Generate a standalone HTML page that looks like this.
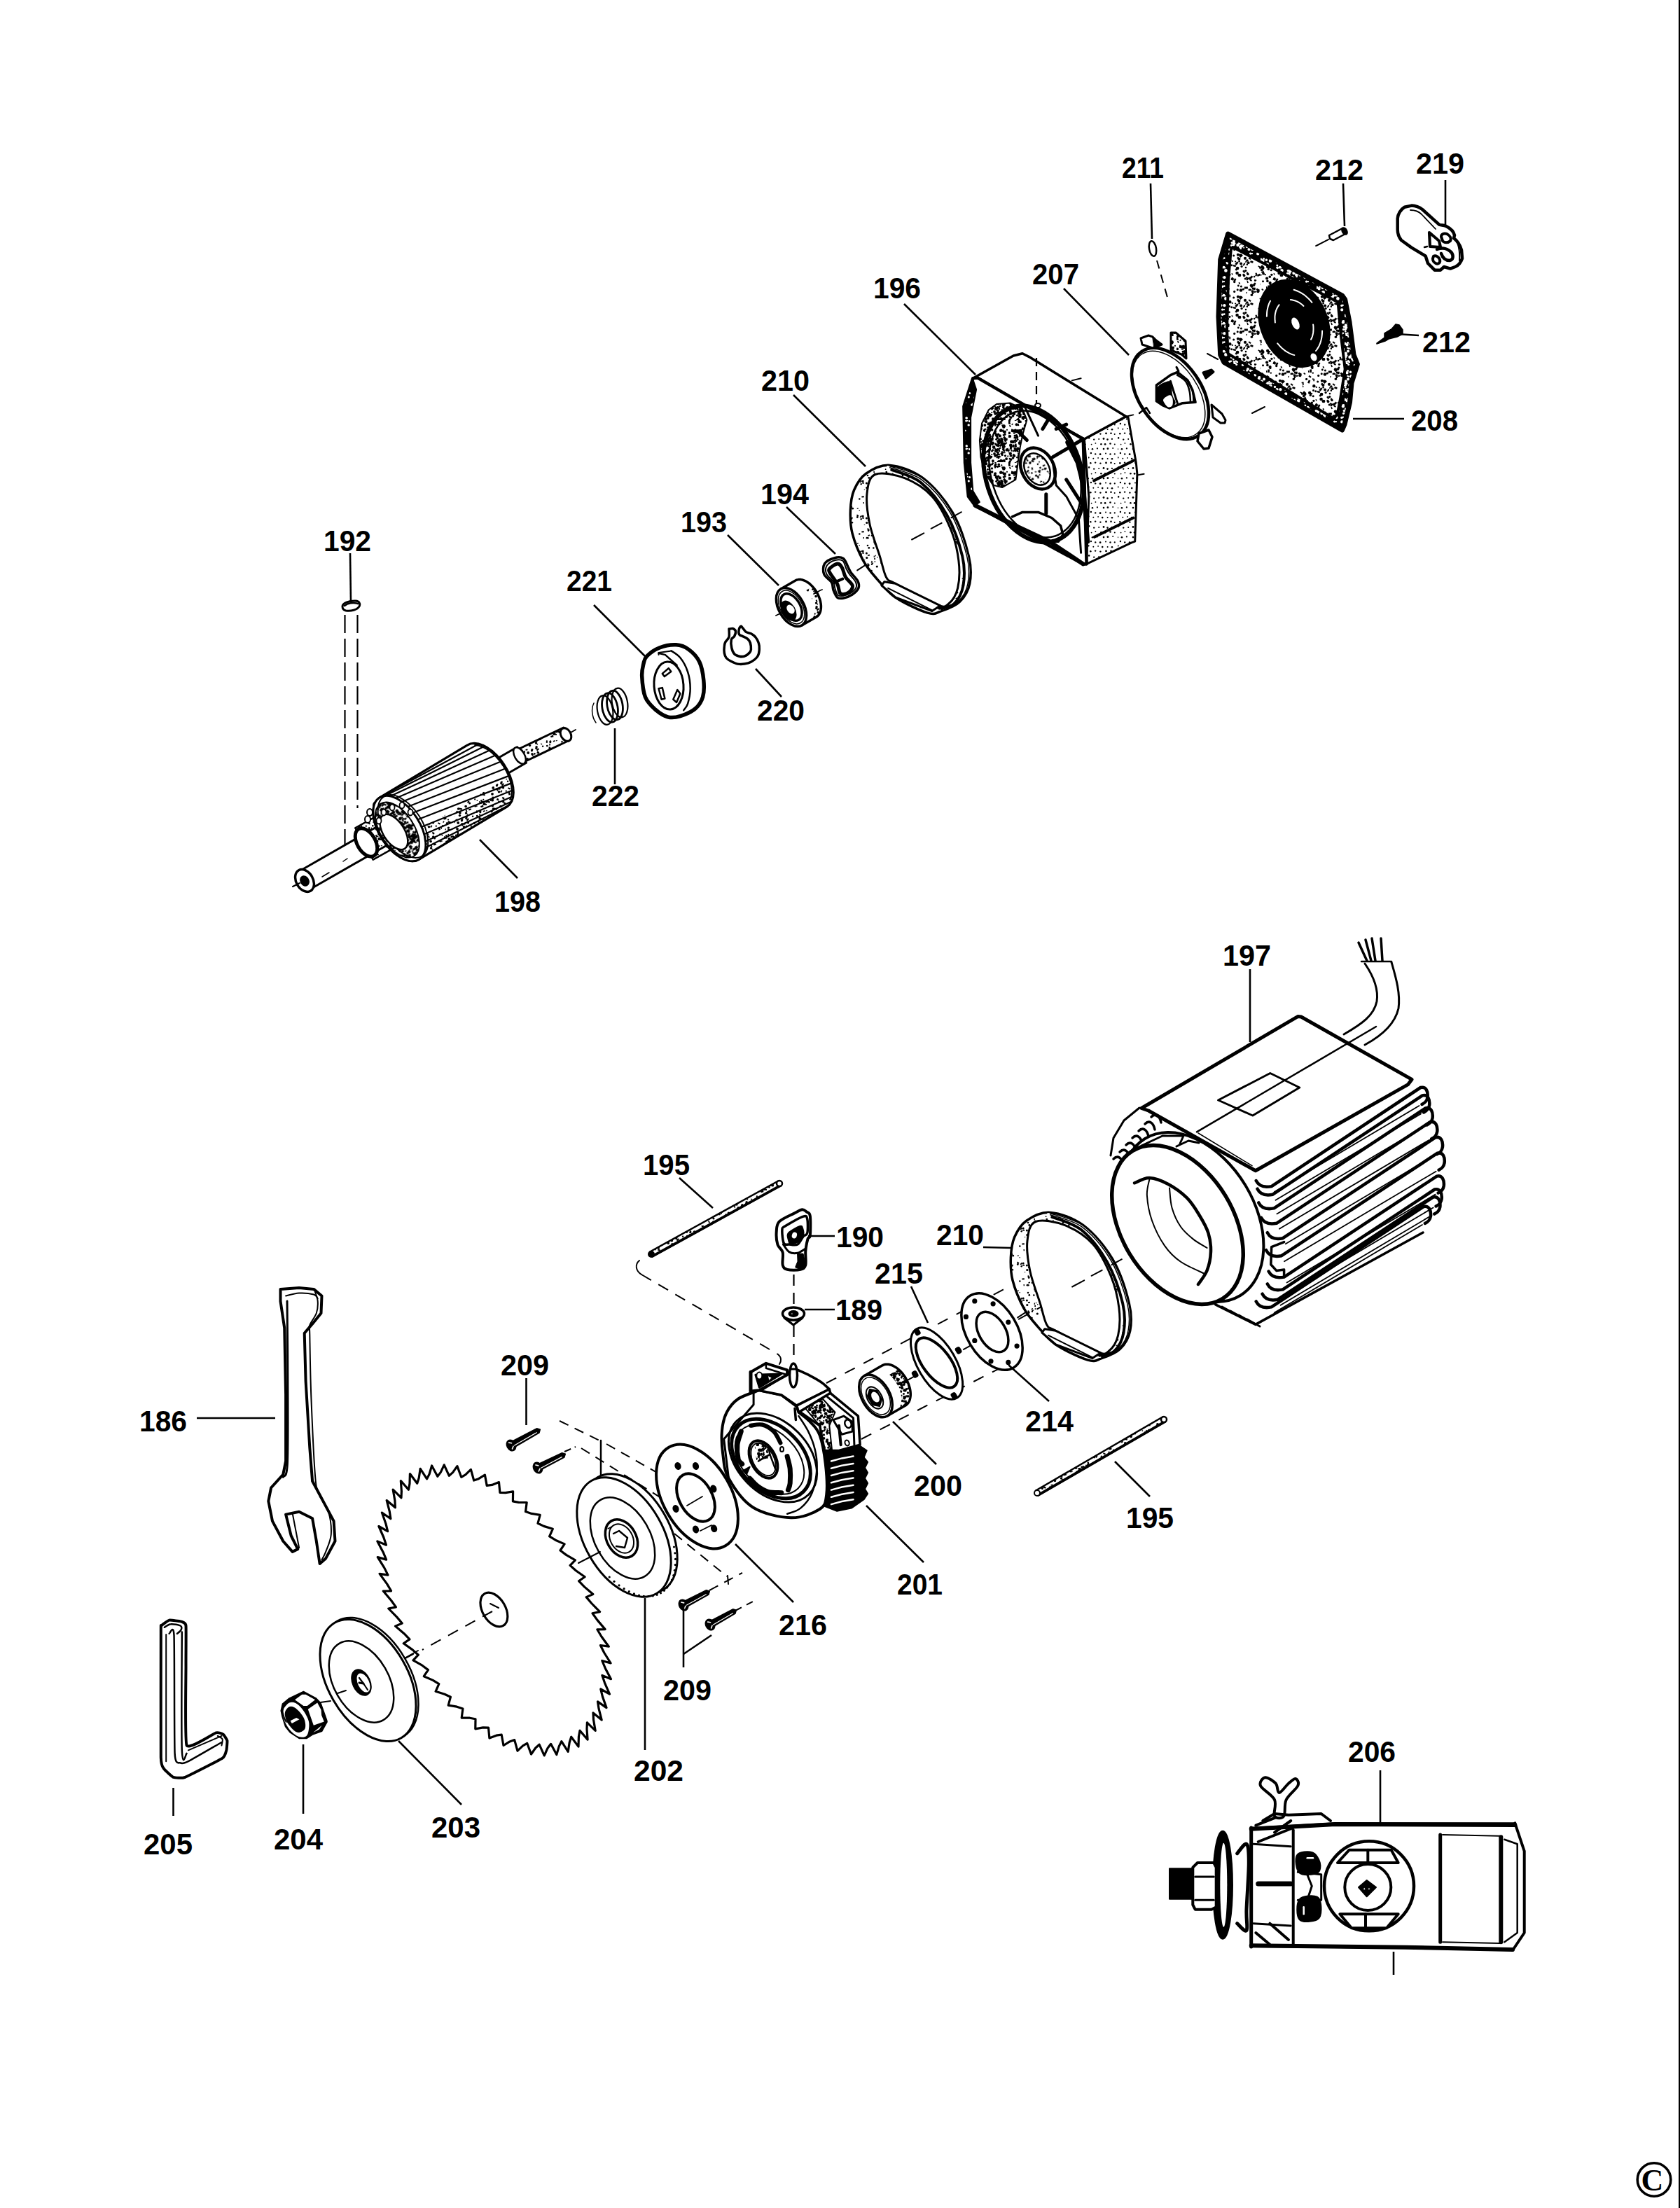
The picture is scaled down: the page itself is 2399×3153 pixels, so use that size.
<!DOCTYPE html><html><head><meta charset="utf-8"><style>html,body{margin:0;padding:0;background:#fff;}svg{display:block}</style></head><body>
<svg xmlns="http://www.w3.org/2000/svg" width="2399" height="3153" viewBox="0 0 2399 3153">
<defs><pattern id="stA" width="60" height="60" patternUnits="userSpaceOnUse"><circle cx="8.1" cy="50.8" r="2.1" fill="#000"/><rect x="29.7" y="27.0" width="4.3" height="2.5" fill="#000" transform="rotate(17 29.7 27.0)"/><rect x="1.7" y="50.1" width="3.7" height="2.2" fill="#000" transform="rotate(0 1.7 50.1)"/><rect x="26.7" y="43.3" width="3.1" height="1.8" fill="#000" transform="rotate(162 26.7 43.3)"/><rect x="1.8" y="1.5" width="4.0" height="2.3" fill="#000" transform="rotate(69 1.8 1.5)"/><circle cx="13.0" cy="25.3" r="1.1" fill="#000"/><circle cx="26.3" cy="29.7" r="1.4" fill="#000"/><circle cx="13.1" cy="27.6" r="1.5" fill="#000"/><circle cx="50.3" cy="33.4" r="1.9" fill="#000"/><circle cx="59.6" cy="51.6" r="1.3" fill="#000"/><circle cx="43.3" cy="42.7" r="2.3" fill="#000"/><rect x="49.8" y="40.2" width="3.3" height="1.9" fill="#000" transform="rotate(159 49.8 40.2)"/><circle cx="50.8" cy="30.3" r="1.9" fill="#000"/><circle cx="14.6" cy="47.8" r="1.6" fill="#000"/><circle cx="32.9" cy="42.2" r="2.0" fill="#000"/><rect x="26.3" y="30.5" width="4.6" height="2.7" fill="#000" transform="rotate(71 26.3 30.5)"/><rect x="29.4" y="1.8" width="2.5" height="1.5" fill="#000" transform="rotate(177 29.4 1.8)"/><rect x="35.6" y="23.6" width="2.9" height="1.7" fill="#000" transform="rotate(177 35.6 23.6)"/><circle cx="46.2" cy="32.4" r="2.2" fill="#000"/><circle cx="30.8" cy="57.1" r="1.9" fill="#000"/><circle cx="16.2" cy="32.9" r="2.3" fill="#000"/><rect x="47.0" y="49.2" width="5.0" height="2.9" fill="#000" transform="rotate(146 47.0 49.2)"/><circle cx="31.1" cy="33.7" r="1.7" fill="#000"/><rect x="52.2" y="34.2" width="3.0" height="1.8" fill="#000" transform="rotate(87 52.2 34.2)"/><rect x="21.4" y="20.8" width="4.0" height="2.3" fill="#000" transform="rotate(110 21.4 20.8)"/><circle cx="27.5" cy="1.7" r="1.4" fill="#000"/><rect x="35.1" y="51.7" width="4.7" height="2.8" fill="#000" transform="rotate(147 35.1 51.7)"/><circle cx="15.3" cy="50.5" r="2.0" fill="#000"/><circle cx="1.0" cy="0.9" r="2.1" fill="#000"/><circle cx="6.6" cy="37.5" r="1.5" fill="#000"/><circle cx="9.6" cy="31.6" r="1.3" fill="#000"/><circle cx="42.7" cy="27.3" r="1.5" fill="#000"/><circle cx="1.4" cy="23.2" r="1.6" fill="#000"/><circle cx="6.5" cy="54.0" r="1.8" fill="#000"/><circle cx="36.3" cy="49.0" r="1.1" fill="#000"/><rect x="8.8" y="43.1" width="2.9" height="1.7" fill="#000" transform="rotate(122 8.8 43.1)"/><rect x="32.7" y="13.2" width="5.2" height="3.1" fill="#000" transform="rotate(93 32.7 13.2)"/><rect x="13.4" y="38.9" width="3.5" height="2.1" fill="#000" transform="rotate(58 13.4 38.9)"/><rect x="37.9" y="3.5" width="3.3" height="1.9" fill="#000" transform="rotate(158 37.9 3.5)"/><rect x="18.4" y="51.5" width="3.3" height="2.0" fill="#000" transform="rotate(134 18.4 51.5)"/><rect x="25.0" y="15.1" width="2.4" height="1.4" fill="#000" transform="rotate(7 25.0 15.1)"/><circle cx="49.2" cy="57.7" r="1.8" fill="#000"/><rect x="52.1" y="58.4" width="4.4" height="2.6" fill="#000" transform="rotate(68 52.1 58.4)"/><circle cx="20.8" cy="12.3" r="2.0" fill="#000"/><circle cx="11.6" cy="6.3" r="2.0" fill="#000"/><rect x="30.0" y="19.5" width="4.9" height="2.9" fill="#000" transform="rotate(3 30.0 19.5)"/><rect x="12.1" y="19.7" width="5.2" height="3.1" fill="#000" transform="rotate(61 12.1 19.7)"/><rect x="12.8" y="40.5" width="4.8" height="2.8" fill="#000" transform="rotate(62 12.8 40.5)"/><rect x="52.9" y="41.2" width="3.8" height="2.2" fill="#000" transform="rotate(42 52.9 41.2)"/><rect x="43.5" y="5.1" width="2.9" height="1.7" fill="#000" transform="rotate(38 43.5 5.1)"/><circle cx="45.5" cy="36.0" r="2.2" fill="#000"/><rect x="20.4" y="17.5" width="4.9" height="2.9" fill="#000" transform="rotate(172 20.4 17.5)"/><circle cx="53.2" cy="8.1" r="1.8" fill="#000"/><rect x="2.3" y="4.4" width="4.9" height="2.9" fill="#000" transform="rotate(149 2.3 4.4)"/><circle cx="20.5" cy="36.9" r="2.1" fill="#000"/><circle cx="34.2" cy="13.4" r="1.2" fill="#000"/><circle cx="53.4" cy="33.9" r="2.3" fill="#000"/><circle cx="16.6" cy="47.2" r="2.2" fill="#000"/><rect x="40.2" y="5.5" width="2.7" height="1.6" fill="#000" transform="rotate(7 40.2 5.5)"/><circle cx="14.4" cy="59.3" r="1.6" fill="#000"/><circle cx="10.0" cy="14.5" r="2.1" fill="#000"/><rect x="54.6" y="22.7" width="5.2" height="3.1" fill="#000" transform="rotate(53 54.6 22.7)"/><rect x="15.2" y="28.6" width="2.7" height="1.6" fill="#000" transform="rotate(7 15.2 28.6)"/><rect x="0.6" y="59.0" width="3.3" height="1.9" fill="#000" transform="rotate(81 0.6 59.0)"/><rect x="18.8" y="3.8" width="5.0" height="3.0" fill="#000" transform="rotate(175 18.8 3.8)"/><rect x="6.7" y="12.9" width="4.2" height="2.5" fill="#000" transform="rotate(98 6.7 12.9)"/><rect x="41.3" y="39.7" width="3.2" height="1.9" fill="#000" transform="rotate(55 41.3 39.7)"/><rect x="14.8" y="4.9" width="3.2" height="1.9" fill="#000" transform="rotate(81 14.8 4.9)"/><circle cx="39.1" cy="38.6" r="2.3" fill="#000"/><rect x="18.4" y="19.6" width="3.3" height="2.0" fill="#000" transform="rotate(161 18.4 19.6)"/><rect x="18.2" y="20.1" width="4.0" height="2.3" fill="#000" transform="rotate(107 18.2 20.1)"/><circle cx="14.7" cy="1.2" r="1.4" fill="#000"/><rect x="33.1" y="4.3" width="2.6" height="1.6" fill="#000" transform="rotate(52 33.1 4.3)"/><circle cx="47.5" cy="29.6" r="2.2" fill="#000"/><rect x="30.1" y="47.7" width="2.6" height="1.6" fill="#000" transform="rotate(31 30.1 47.7)"/><circle cx="46.6" cy="59.1" r="2.2" fill="#000"/><circle cx="6.4" cy="30.9" r="2.3" fill="#000"/><circle cx="53.6" cy="8.5" r="2.3" fill="#000"/><rect x="19.0" y="54.2" width="4.7" height="2.8" fill="#000" transform="rotate(151 19.0 54.2)"/><circle cx="44.8" cy="41.4" r="1.3" fill="#000"/><circle cx="9.5" cy="42.9" r="2.0" fill="#000"/><rect x="3.9" y="57.8" width="4.7" height="2.8" fill="#000" transform="rotate(97 3.9 57.8)"/><circle cx="51.1" cy="27.2" r="1.6" fill="#000"/><circle cx="15.5" cy="1.5" r="1.9" fill="#000"/><circle cx="34.2" cy="3.7" r="1.6" fill="#000"/><circle cx="7.5" cy="15.5" r="2.2" fill="#000"/><circle cx="24.1" cy="36.7" r="1.4" fill="#000"/><circle cx="31.7" cy="30.1" r="1.9" fill="#000"/><circle cx="41.2" cy="43.9" r="1.4" fill="#000"/><rect x="28.7" y="13.5" width="3.6" height="2.1" fill="#000" transform="rotate(163 28.7 13.5)"/><circle cx="55.1" cy="16.5" r="1.9" fill="#000"/><circle cx="4.3" cy="30.7" r="2.2" fill="#000"/><rect x="46.0" y="53.0" width="3.3" height="2.0" fill="#000" transform="rotate(153 46.0 53.0)"/><rect x="22.3" y="42.1" width="4.5" height="2.7" fill="#000" transform="rotate(154 22.3 42.1)"/><circle cx="53.8" cy="57.6" r="1.8" fill="#000"/><rect x="15.0" y="13.1" width="4.0" height="2.4" fill="#000" transform="rotate(9 15.0 13.1)"/><rect x="40.9" y="43.0" width="3.4" height="2.0" fill="#000" transform="rotate(30 40.9 43.0)"/><rect x="43.8" y="2.4" width="5.2" height="3.1" fill="#000" transform="rotate(113 43.8 2.4)"/><circle cx="16.1" cy="54.8" r="2.3" fill="#000"/><rect x="46.5" y="50.5" width="4.3" height="2.5" fill="#000" transform="rotate(80 46.5 50.5)"/><rect x="55.5" y="58.3" width="3.5" height="2.1" fill="#000" transform="rotate(78 55.5 58.3)"/><rect x="9.9" y="19.5" width="2.8" height="1.6" fill="#000" transform="rotate(173 9.9 19.5)"/><circle cx="7.2" cy="36.0" r="1.6" fill="#000"/><circle cx="17.7" cy="14.9" r="2.1" fill="#000"/><rect x="11.4" y="26.3" width="2.5" height="1.5" fill="#000" transform="rotate(109 11.4 26.3)"/><rect x="50.1" y="12.4" width="3.2" height="1.9" fill="#000" transform="rotate(49 50.1 12.4)"/><rect x="35.1" y="15.1" width="4.4" height="2.6" fill="#000" transform="rotate(146 35.1 15.1)"/><rect x="58.4" y="32.7" width="3.8" height="2.3" fill="#000" transform="rotate(138 58.4 32.7)"/><circle cx="34.2" cy="23.0" r="1.5" fill="#000"/><rect x="48.5" y="7.1" width="4.6" height="2.7" fill="#000" transform="rotate(174 48.5 7.1)"/><rect x="45.7" y="58.4" width="2.8" height="1.7" fill="#000" transform="rotate(103 45.7 58.4)"/><rect x="18.7" y="30.2" width="3.4" height="2.0" fill="#000" transform="rotate(0 18.7 30.2)"/><circle cx="26.5" cy="27.0" r="1.5" fill="#000"/><rect x="47.0" y="41.0" width="3.8" height="2.3" fill="#000" transform="rotate(68 47.0 41.0)"/><rect x="12.2" y="0.2" width="3.2" height="1.9" fill="#000" transform="rotate(159 12.2 0.2)"/><circle cx="49.8" cy="30.7" r="2.4" fill="#000"/><rect x="50.1" y="24.5" width="4.5" height="2.7" fill="#000" transform="rotate(55 50.1 24.5)"/><circle cx="10.2" cy="37.2" r="1.8" fill="#000"/><circle cx="0.2" cy="23.3" r="1.7" fill="#000"/><rect x="51.7" y="35.1" width="4.5" height="2.7" fill="#000" transform="rotate(135 51.7 35.1)"/><rect x="29.6" y="44.7" width="4.3" height="2.5" fill="#000" transform="rotate(113 29.6 44.7)"/><rect x="24.4" y="37.8" width="4.2" height="2.5" fill="#000" transform="rotate(141 24.4 37.8)"/><rect x="50.8" y="46.0" width="4.8" height="2.8" fill="#000" transform="rotate(63 50.8 46.0)"/><rect x="15.9" y="42.5" width="4.9" height="2.9" fill="#000" transform="rotate(27 15.9 42.5)"/><circle cx="50.0" cy="29.1" r="1.7" fill="#000"/><circle cx="30.6" cy="44.7" r="1.6" fill="#000"/><rect x="39.4" y="1.2" width="3.9" height="2.3" fill="#000" transform="rotate(124 39.4 1.2)"/><circle cx="24.1" cy="41.3" r="1.9" fill="#000"/><circle cx="12.5" cy="53.2" r="1.4" fill="#000"/><rect x="49.8" y="31.4" width="3.5" height="2.1" fill="#000" transform="rotate(133 49.8 31.4)"/><rect x="10.1" y="39.2" width="4.5" height="2.6" fill="#000" transform="rotate(49 10.1 39.2)"/><circle cx="36.6" cy="13.9" r="1.8" fill="#000"/><circle cx="47.4" cy="52.0" r="1.5" fill="#000"/><circle cx="57.8" cy="42.4" r="2.2" fill="#000"/><circle cx="54.0" cy="37.3" r="1.5" fill="#000"/><rect x="45.7" y="47.1" width="3.0" height="1.8" fill="#000" transform="rotate(30 45.7 47.1)"/><rect x="58.4" y="26.6" width="5.0" height="3.0" fill="#000" transform="rotate(109 58.4 26.6)"/><circle cx="15.7" cy="31.6" r="1.3" fill="#000"/><circle cx="42.9" cy="21.7" r="2.1" fill="#000"/><circle cx="43.1" cy="43.1" r="1.5" fill="#000"/><circle cx="23.8" cy="29.5" r="1.2" fill="#000"/><circle cx="3.3" cy="35.9" r="2.3" fill="#000"/><rect x="2.1" y="42.2" width="4.8" height="2.8" fill="#000" transform="rotate(110 2.1 42.2)"/><rect x="20.5" y="50.3" width="2.8" height="1.6" fill="#000" transform="rotate(17 20.5 50.3)"/><circle cx="24.0" cy="29.7" r="1.6" fill="#000"/><rect x="13.9" y="49.2" width="3.7" height="2.2" fill="#000" transform="rotate(38 13.9 49.2)"/><rect x="42.9" y="19.8" width="4.1" height="2.4" fill="#000" transform="rotate(179 42.9 19.8)"/><circle cx="2.8" cy="47.8" r="2.2" fill="#000"/><circle cx="23.0" cy="34.8" r="2.3" fill="#000"/><rect x="52.8" y="45.5" width="2.9" height="1.7" fill="#000" transform="rotate(3 52.8 45.5)"/><circle cx="8.7" cy="39.9" r="1.2" fill="#000"/><rect x="7.8" y="27.8" width="4.8" height="2.8" fill="#000" transform="rotate(6 7.8 27.8)"/><circle cx="3.7" cy="50.4" r="1.2" fill="#000"/><rect x="7.0" y="5.5" width="2.5" height="1.5" fill="#000" transform="rotate(134 7.0 5.5)"/><circle cx="41.2" cy="50.7" r="2.0" fill="#000"/><circle cx="37.9" cy="58.2" r="1.9" fill="#000"/><circle cx="3.6" cy="56.1" r="1.9" fill="#000"/><circle cx="36.3" cy="33.6" r="1.8" fill="#000"/><rect x="21.2" y="24.8" width="3.0" height="1.8" fill="#000" transform="rotate(76 21.2 24.8)"/><rect x="39.7" y="42.8" width="4.5" height="2.7" fill="#000" transform="rotate(135 39.7 42.8)"/><rect x="15.1" y="58.6" width="2.9" height="1.7" fill="#000" transform="rotate(154 15.1 58.6)"/><rect x="51.1" y="3.2" width="2.7" height="1.6" fill="#000" transform="rotate(84 51.1 3.2)"/><rect x="22.2" y="59.1" width="2.5" height="1.5" fill="#000" transform="rotate(80 22.2 59.1)"/><rect x="7.7" y="23.7" width="4.4" height="2.6" fill="#000" transform="rotate(4 7.7 23.7)"/><circle cx="31.5" cy="5.4" r="2.1" fill="#000"/><circle cx="2.1" cy="23.1" r="2.1" fill="#000"/><rect x="7.8" y="47.7" width="4.7" height="2.8" fill="#000" transform="rotate(55 7.8 47.7)"/><circle cx="25.5" cy="14.7" r="1.8" fill="#000"/><rect x="20.3" y="47.0" width="5.2" height="3.0" fill="#000" transform="rotate(19 20.3 47.0)"/><rect x="39.2" y="26.9" width="5.2" height="3.1" fill="#000" transform="rotate(150 39.2 26.9)"/><rect x="42.1" y="32.1" width="5.0" height="2.9" fill="#000" transform="rotate(52 42.1 32.1)"/><circle cx="9.4" cy="22.2" r="1.8" fill="#000"/><rect x="20.7" y="34.5" width="2.5" height="1.5" fill="#000" transform="rotate(117 20.7 34.5)"/><circle cx="18.8" cy="17.9" r="1.6" fill="#000"/><circle cx="44.9" cy="30.1" r="1.8" fill="#000"/><circle cx="54.9" cy="19.5" r="1.5" fill="#000"/><rect x="58.8" y="28.8" width="5.0" height="3.0" fill="#000" transform="rotate(175 58.8 28.8)"/><rect x="48.9" y="55.5" width="5.1" height="3.0" fill="#000" transform="rotate(24 48.9 55.5)"/><rect x="31.4" y="34.5" width="5.3" height="3.1" fill="#000" transform="rotate(127 31.4 34.5)"/><rect x="44.8" y="21.7" width="5.1" height="3.0" fill="#000" transform="rotate(72 44.8 21.7)"/><circle cx="27.9" cy="58.8" r="1.8" fill="#000"/><rect x="8.9" y="41.2" width="4.0" height="2.4" fill="#000" transform="rotate(33 8.9 41.2)"/><circle cx="24.7" cy="43.7" r="1.2" fill="#000"/><circle cx="32.7" cy="15.9" r="1.2" fill="#000"/><circle cx="37.9" cy="31.6" r="1.2" fill="#000"/><rect x="51.0" y="38.6" width="2.9" height="1.7" fill="#000" transform="rotate(4 51.0 38.6)"/><circle cx="22.1" cy="50.9" r="2.0" fill="#000"/><rect x="53.5" y="35.9" width="4.9" height="2.9" fill="#000" transform="rotate(77 53.5 35.9)"/><rect x="40.5" y="32.7" width="5.1" height="3.0" fill="#000" transform="rotate(131 40.5 32.7)"/><circle cx="48.8" cy="59.9" r="1.4" fill="#000"/><circle cx="44.8" cy="46.2" r="1.8" fill="#000"/><rect x="24.2" y="53.0" width="4.7" height="2.8" fill="#000" transform="rotate(7 24.2 53.0)"/><circle cx="51.1" cy="27.5" r="1.3" fill="#000"/><circle cx="41.5" cy="0.3" r="1.3" fill="#000"/><rect x="53.2" y="44.8" width="5.2" height="3.1" fill="#000" transform="rotate(103 53.2 44.8)"/><rect x="33.1" y="31.5" width="4.0" height="2.3" fill="#000" transform="rotate(172 33.1 31.5)"/><circle cx="24.5" cy="37.8" r="1.5" fill="#000"/><rect x="30.4" y="35.2" width="4.0" height="2.4" fill="#000" transform="rotate(29 30.4 35.2)"/><rect x="38.2" y="59.7" width="4.5" height="2.7" fill="#000" transform="rotate(66 38.2 59.7)"/><rect x="24.1" y="56.2" width="5.0" height="2.9" fill="#000" transform="rotate(162 24.1 56.2)"/><circle cx="55.5" cy="50.8" r="1.6" fill="#000"/><circle cx="47.8" cy="22.4" r="2.1" fill="#000"/><circle cx="20.2" cy="27.4" r="1.3" fill="#000"/><circle cx="24.9" cy="1.1" r="1.3" fill="#000"/><rect x="51.5" y="35.4" width="3.2" height="1.9" fill="#000" transform="rotate(46 51.5 35.4)"/><circle cx="30.8" cy="44.4" r="2.0" fill="#000"/><circle cx="46.6" cy="29.1" r="2.0" fill="#000"/><circle cx="58.3" cy="43.0" r="1.2" fill="#000"/><circle cx="58.0" cy="13.8" r="1.1" fill="#000"/><rect x="28.8" y="57.1" width="3.6" height="2.1" fill="#000" transform="rotate(150 28.8 57.1)"/><rect x="5.3" y="36.7" width="5.3" height="3.1" fill="#000" transform="rotate(96 5.3 36.7)"/><circle cx="20.8" cy="56.8" r="2.4" fill="#000"/><circle cx="33.2" cy="25.2" r="2.0" fill="#000"/><rect x="15.9" y="16.7" width="3.8" height="2.2" fill="#000" transform="rotate(154 15.9 16.7)"/><circle cx="47.2" cy="40.6" r="1.2" fill="#000"/><rect x="40.1" y="17.7" width="3.9" height="2.3" fill="#000" transform="rotate(21 40.1 17.7)"/><rect x="51.2" y="6.3" width="3.5" height="2.1" fill="#000" transform="rotate(36 51.2 6.3)"/><rect x="31.2" y="25.0" width="5.0" height="2.9" fill="#000" transform="rotate(52 31.2 25.0)"/><circle cx="29.5" cy="53.7" r="1.8" fill="#000"/><circle cx="45.6" cy="20.2" r="1.7" fill="#000"/><rect x="59.3" y="39.4" width="5.1" height="3.0" fill="#000" transform="rotate(48 59.3 39.4)"/><rect x="32.4" y="26.4" width="4.6" height="2.7" fill="#000" transform="rotate(41 32.4 26.4)"/><circle cx="16.5" cy="42.4" r="1.6" fill="#000"/><rect x="11.7" y="33.7" width="4.1" height="2.4" fill="#000" transform="rotate(96 11.7 33.7)"/><circle cx="36.5" cy="8.9" r="1.6" fill="#000"/><circle cx="41.7" cy="16.0" r="1.4" fill="#000"/><circle cx="28.2" cy="20.3" r="1.9" fill="#000"/><circle cx="52.8" cy="41.7" r="1.8" fill="#000"/><rect x="19.6" y="41.4" width="4.3" height="2.5" fill="#000" transform="rotate(160 19.6 41.4)"/><circle cx="18.9" cy="29.6" r="1.5" fill="#000"/><rect x="8.4" y="15.4" width="2.7" height="1.6" fill="#000" transform="rotate(127 8.4 15.4)"/><circle cx="33.8" cy="41.1" r="1.4" fill="#000"/><circle cx="34.1" cy="53.1" r="1.6" fill="#000"/><circle cx="1.2" cy="18.3" r="1.9" fill="#000"/><circle cx="13.5" cy="40.8" r="2.4" fill="#000"/><circle cx="36.1" cy="31.1" r="1.1" fill="#000"/><rect x="8.4" y="15.0" width="4.6" height="2.7" fill="#000" transform="rotate(7 8.4 15.0)"/><circle cx="4.6" cy="43.5" r="1.2" fill="#000"/><circle cx="16.2" cy="3.0" r="1.1" fill="#000"/><circle cx="24.0" cy="56.0" r="1.9" fill="#000"/><circle cx="40.8" cy="16.4" r="1.8" fill="#000"/><rect x="56.9" y="21.1" width="4.7" height="2.8" fill="#000" transform="rotate(152 56.9 21.1)"/><rect x="36.4" y="52.2" width="3.6" height="2.1" fill="#000" transform="rotate(112 36.4 52.2)"/><circle cx="31.7" cy="33.9" r="1.8" fill="#000"/><circle cx="53.9" cy="38.0" r="1.8" fill="#000"/><circle cx="30.5" cy="10.5" r="1.4" fill="#000"/><rect x="32.8" y="15.0" width="3.2" height="1.9" fill="#000" transform="rotate(85 32.8 15.0)"/><rect x="24.2" y="6.2" width="3.5" height="2.1" fill="#000" transform="rotate(98 24.2 6.2)"/><rect x="32.7" y="50.6" width="4.5" height="2.7" fill="#000" transform="rotate(5 32.7 50.6)"/><rect x="18.5" y="40.9" width="2.9" height="1.7" fill="#000" transform="rotate(26 18.5 40.9)"/><rect x="52.7" y="13.0" width="4.8" height="2.9" fill="#000" transform="rotate(60 52.7 13.0)"/><circle cx="53.3" cy="9.6" r="2.2" fill="#000"/><circle cx="26.4" cy="7.1" r="1.9" fill="#000"/><circle cx="40.0" cy="48.0" r="1.9" fill="#000"/><circle cx="57.1" cy="55.2" r="1.9" fill="#000"/><rect x="33.7" y="53.0" width="3.7" height="2.2" fill="#000" transform="rotate(108 33.7 53.0)"/><rect x="25.3" y="56.0" width="3.6" height="2.1" fill="#000" transform="rotate(10 25.3 56.0)"/><circle cx="28.2" cy="2.2" r="2.0" fill="#000"/><rect x="2.5" y="6.7" width="2.8" height="1.7" fill="#000" transform="rotate(64 2.5 6.7)"/><rect x="16.3" y="59.0" width="5.0" height="3.0" fill="#000" transform="rotate(144 16.3 59.0)"/><circle cx="49.2" cy="14.7" r="2.2" fill="#000"/><rect x="33.7" y="21.5" width="2.9" height="1.7" fill="#000" transform="rotate(165 33.7 21.5)"/><rect x="18.8" y="52.8" width="3.4" height="2.0" fill="#000" transform="rotate(179 18.8 52.8)"/><circle cx="46.3" cy="3.3" r="1.7" fill="#000"/><rect x="17.6" y="49.0" width="3.7" height="2.2" fill="#000" transform="rotate(114 17.6 49.0)"/><rect x="31.1" y="3.4" width="4.3" height="2.6" fill="#000" transform="rotate(31 31.1 3.4)"/><rect x="38.6" y="29.2" width="3.4" height="2.0" fill="#000" transform="rotate(176 38.6 29.2)"/><rect x="1.3" y="53.8" width="3.5" height="2.1" fill="#000" transform="rotate(31 1.3 53.8)"/><rect x="43.0" y="6.0" width="3.4" height="2.0" fill="#000" transform="rotate(118 43.0 6.0)"/><circle cx="47.1" cy="27.7" r="1.7" fill="#000"/></pattern><pattern id="stB" width="42" height="42" patternUnits="userSpaceOnUse"><circle cx="4.6" cy="4.6" r="0.9" fill="#000"/><circle cx="6.0" cy="11.3" r="1.3" fill="#000"/><circle cx="3.9" cy="17.0" r="1.2" fill="#000"/><circle cx="7.3" cy="24.7" r="1.0" fill="#000"/><circle cx="3.3" cy="31.2" r="1.3" fill="#000"/><circle cx="8.2" cy="39.6" r="1.2" fill="#000"/><circle cx="10.4" cy="2.9" r="0.9" fill="#000"/><circle cx="12.9" cy="10.4" r="1.1" fill="#000"/><circle cx="10.2" cy="18.4" r="1.2" fill="#000"/><circle cx="14.1" cy="23.9" r="0.9" fill="#000"/><circle cx="10.1" cy="30.6" r="1.2" fill="#000"/><circle cx="15.2" cy="38.9" r="1.0" fill="#000"/><circle cx="18.4" cy="4.2" r="1.3" fill="#000"/><circle cx="22.0" cy="11.1" r="1.3" fill="#000"/><circle cx="17.1" cy="18.7" r="1.4" fill="#000"/><circle cx="20.2" cy="25.1" r="1.3" fill="#000"/><circle cx="17.4" cy="31.6" r="1.2" fill="#000"/><circle cx="22.0" cy="38.5" r="1.4" fill="#000"/><circle cx="24.1" cy="4.4" r="1.4" fill="#000"/><circle cx="27.9" cy="10.7" r="1.4" fill="#000"/><circle cx="25.0" cy="17.5" r="1.0" fill="#000"/><circle cx="27.6" cy="25.0" r="1.0" fill="#000"/><circle cx="25.5" cy="30.9" r="1.4" fill="#000"/><circle cx="27.5" cy="39.6" r="1.3" fill="#000"/><circle cx="31.5" cy="3.5" r="1.3" fill="#000"/><circle cx="35.2" cy="10.0" r="1.0" fill="#000"/><circle cx="31.5" cy="18.5" r="1.2" fill="#000"/><circle cx="34.0" cy="25.3" r="1.3" fill="#000"/><circle cx="32.5" cy="30.8" r="1.3" fill="#000"/><circle cx="33.9" cy="38.9" r="1.1" fill="#000"/><circle cx="37.8" cy="4.4" r="1.0" fill="#000"/><circle cx="0.1" cy="11.3" r="1.0" fill="#000"/><circle cx="37.8" cy="18.4" r="1.1" fill="#000"/><circle cx="0.5" cy="23.4" r="1.1" fill="#000"/><circle cx="37.7" cy="31.9" r="1.0" fill="#000"/><circle cx="1.1" cy="37.4" r="1.3" fill="#000"/></pattern><pattern id="stC" width="50" height="50" patternUnits="userSpaceOnUse"><rect x="11.9" y="27.2" width="2.8" height="1.7" fill="#000" transform="rotate(113 11.9 27.2)"/><circle cx="3.3" cy="0.7" r="1.7" fill="#000"/><rect x="11.7" y="49.8" width="3.0" height="1.8" fill="#000" transform="rotate(86 11.7 49.8)"/><rect x="32.0" y="7.5" width="3.4" height="2.0" fill="#000" transform="rotate(94 32.0 7.5)"/><rect x="37.1" y="33.6" width="2.1" height="1.3" fill="#000" transform="rotate(106 37.1 33.6)"/><circle cx="15.1" cy="1.6" r="1.8" fill="#000"/><rect x="35.9" y="43.9" width="3.6" height="2.1" fill="#000" transform="rotate(71 35.9 43.9)"/><rect x="40.0" y="22.2" width="4.0" height="2.4" fill="#000" transform="rotate(18 40.0 22.2)"/><circle cx="6.8" cy="10.8" r="1.9" fill="#000"/><circle cx="31.3" cy="15.1" r="1.4" fill="#000"/><rect x="17.5" y="29.3" width="3.3" height="1.9" fill="#000" transform="rotate(123 17.5 29.3)"/><rect x="46.4" y="42.8" width="4.2" height="2.5" fill="#000" transform="rotate(29 46.4 42.8)"/><rect x="43.0" y="48.2" width="4.0" height="2.3" fill="#000" transform="rotate(128 43.0 48.2)"/><circle cx="10.6" cy="41.6" r="1.5" fill="#000"/><circle cx="3.2" cy="42.7" r="1.9" fill="#000"/><circle cx="40.0" cy="20.5" r="1.1" fill="#000"/><rect x="38.4" y="43.6" width="2.1" height="1.2" fill="#000" transform="rotate(8 38.4 43.6)"/><rect x="35.9" y="16.5" width="3.9" height="2.3" fill="#000" transform="rotate(91 35.9 16.5)"/><rect x="49.9" y="15.5" width="2.1" height="1.3" fill="#000" transform="rotate(6 49.9 15.5)"/><circle cx="9.9" cy="20.4" r="1.5" fill="#000"/><rect x="2.1" y="43.4" width="2.7" height="1.6" fill="#000" transform="rotate(161 2.1 43.4)"/><rect x="18.9" y="23.0" width="3.1" height="1.8" fill="#000" transform="rotate(107 18.9 23.0)"/><rect x="28.0" y="31.0" width="4.0" height="2.4" fill="#000" transform="rotate(78 28.0 31.0)"/><rect x="36.0" y="11.9" width="2.6" height="1.6" fill="#000" transform="rotate(94 36.0 11.9)"/><rect x="27.4" y="0.6" width="2.9" height="1.7" fill="#000" transform="rotate(4 27.4 0.6)"/><rect x="30.8" y="31.6" width="2.1" height="1.2" fill="#000" transform="rotate(84 30.8 31.6)"/><rect x="34.0" y="17.6" width="3.5" height="2.1" fill="#000" transform="rotate(4 34.0 17.6)"/><circle cx="3.0" cy="33.8" r="1.9" fill="#000"/><circle cx="22.8" cy="29.6" r="1.2" fill="#000"/><circle cx="15.6" cy="18.5" r="1.5" fill="#000"/><rect x="18.9" y="38.6" width="2.0" height="1.2" fill="#000" transform="rotate(132 18.9 38.6)"/><circle cx="15.5" cy="11.1" r="1.7" fill="#000"/><circle cx="9.4" cy="21.8" r="1.6" fill="#000"/><circle cx="16.1" cy="16.7" r="1.7" fill="#000"/><rect x="42.8" y="8.5" width="2.7" height="1.6" fill="#000" transform="rotate(159 42.8 8.5)"/><rect x="22.6" y="11.3" width="2.2" height="1.3" fill="#000" transform="rotate(34 22.6 11.3)"/><circle cx="40.3" cy="41.9" r="1.1" fill="#000"/><circle cx="40.4" cy="32.1" r="1.7" fill="#000"/><circle cx="6.5" cy="14.6" r="1.7" fill="#000"/><circle cx="17.3" cy="20.8" r="1.3" fill="#000"/><rect x="46.0" y="7.8" width="2.0" height="1.2" fill="#000" transform="rotate(158 46.0 7.8)"/><rect x="49.3" y="21.7" width="4.1" height="2.4" fill="#000" transform="rotate(40 49.3 21.7)"/><rect x="37.3" y="41.8" width="3.4" height="2.0" fill="#000" transform="rotate(52 37.3 41.8)"/><rect x="17.1" y="11.4" width="2.1" height="1.3" fill="#000" transform="rotate(52 17.1 11.4)"/><rect x="40.5" y="2.3" width="4.0" height="2.3" fill="#000" transform="rotate(166 40.5 2.3)"/><circle cx="44.8" cy="45.0" r="1.5" fill="#000"/><rect x="37.3" y="8.6" width="2.6" height="1.6" fill="#000" transform="rotate(94 37.3 8.6)"/><circle cx="20.7" cy="47.0" r="1.5" fill="#000"/><rect x="12.6" y="43.1" width="3.0" height="1.8" fill="#000" transform="rotate(63 12.6 43.1)"/><circle cx="9.9" cy="26.7" r="1.7" fill="#000"/><rect x="39.6" y="46.1" width="3.8" height="2.2" fill="#000" transform="rotate(1 39.6 46.1)"/><circle cx="31.4" cy="43.1" r="0.9" fill="#000"/><circle cx="13.4" cy="26.4" r="1.3" fill="#000"/><circle cx="38.8" cy="0.1" r="1.0" fill="#000"/><rect x="6.2" y="3.4" width="4.1" height="2.4" fill="#000" transform="rotate(16 6.2 3.4)"/><circle cx="25.1" cy="15.8" r="1.2" fill="#000"/><circle cx="32.3" cy="29.3" r="1.3" fill="#000"/><rect x="16.4" y="6.2" width="3.2" height="1.9" fill="#000" transform="rotate(68 16.4 6.2)"/><rect x="4.0" y="8.9" width="2.8" height="1.7" fill="#000" transform="rotate(141 4.0 8.9)"/><circle cx="19.0" cy="40.1" r="1.5" fill="#000"/><circle cx="18.6" cy="24.8" r="1.6" fill="#000"/><rect x="34.7" y="23.0" width="2.5" height="1.5" fill="#000" transform="rotate(125 34.7 23.0)"/><rect x="3.6" y="21.2" width="2.9" height="1.7" fill="#000" transform="rotate(169 3.6 21.2)"/><circle cx="18.7" cy="44.9" r="1.7" fill="#000"/><rect x="23.2" y="6.2" width="3.8" height="2.2" fill="#000" transform="rotate(160 23.2 6.2)"/><rect x="39.6" y="33.4" width="3.6" height="2.1" fill="#000" transform="rotate(19 39.6 33.4)"/><rect x="29.4" y="0.2" width="2.3" height="1.4" fill="#000" transform="rotate(8 29.4 0.2)"/><circle cx="4.6" cy="5.0" r="1.8" fill="#000"/><rect x="1.2" y="42.1" width="2.2" height="1.3" fill="#000" transform="rotate(121 1.2 42.1)"/><rect x="41.8" y="47.6" width="3.3" height="1.9" fill="#000" transform="rotate(7 41.8 47.6)"/><circle cx="38.4" cy="25.6" r="1.6" fill="#000"/><circle cx="37.4" cy="46.7" r="1.0" fill="#000"/><circle cx="28.2" cy="41.4" r="1.1" fill="#000"/><circle cx="12.5" cy="30.8" r="1.7" fill="#000"/><circle cx="18.4" cy="19.8" r="1.3" fill="#000"/><circle cx="4.2" cy="25.0" r="1.9" fill="#000"/><rect x="37.4" y="8.0" width="3.5" height="2.1" fill="#000" transform="rotate(121 37.4 8.0)"/><rect x="25.9" y="24.2" width="3.4" height="2.0" fill="#000" transform="rotate(27 25.9 24.2)"/><rect x="4.8" y="37.4" width="4.0" height="2.4" fill="#000" transform="rotate(80 4.8 37.4)"/><circle cx="35.9" cy="9.3" r="1.2" fill="#000"/></pattern><pattern id="stE" width="50" height="50" patternUnits="userSpaceOnUse"><rect x="31.1" y="37.1" width="3.2" height="1.9" fill="#000" transform="rotate(133 31.1 37.1)"/><rect x="46.1" y="1.5" width="2.6" height="1.5" fill="#000" transform="rotate(117 46.1 1.5)"/><circle cx="45.0" cy="5.7" r="1.2" fill="#000"/><circle cx="27.2" cy="28.7" r="0.8" fill="#000"/><circle cx="14.0" cy="45.8" r="1.4" fill="#000"/><circle cx="39.9" cy="6.9" r="1.3" fill="#000"/><circle cx="0.1" cy="43.6" r="1.0" fill="#000"/><rect x="49.1" y="43.6" width="2.3" height="1.3" fill="#000" transform="rotate(97 49.1 43.6)"/><rect x="33.9" y="10.2" width="3.4" height="2.0" fill="#000" transform="rotate(174 33.9 10.2)"/><circle cx="44.7" cy="14.9" r="1.1" fill="#000"/><rect x="7.3" y="3.3" width="2.3" height="1.4" fill="#000" transform="rotate(1 7.3 3.3)"/><rect x="33.9" y="16.9" width="2.3" height="1.4" fill="#000" transform="rotate(87 33.9 16.9)"/><circle cx="15.8" cy="24.1" r="1.4" fill="#000"/><rect x="48.8" y="1.1" width="3.1" height="1.8" fill="#000" transform="rotate(3 48.8 1.1)"/><circle cx="39.4" cy="18.3" r="1.3" fill="#000"/><circle cx="2.3" cy="9.0" r="1.6" fill="#000"/><circle cx="37.8" cy="46.5" r="1.6" fill="#000"/><circle cx="17.7" cy="26.2" r="1.4" fill="#000"/><circle cx="37.4" cy="39.9" r="1.5" fill="#000"/><rect x="47.3" y="4.6" width="2.4" height="1.4" fill="#000" transform="rotate(165 47.3 4.6)"/><circle cx="17.0" cy="46.2" r="1.2" fill="#000"/><circle cx="15.8" cy="8.9" r="0.9" fill="#000"/><circle cx="34.5" cy="49.8" r="0.9" fill="#000"/><circle cx="49.3" cy="26.7" r="1.1" fill="#000"/><circle cx="29.7" cy="41.3" r="1.2" fill="#000"/><circle cx="2.8" cy="45.8" r="0.8" fill="#000"/><rect x="41.9" y="6.5" width="3.0" height="1.8" fill="#000" transform="rotate(113 41.9 6.5)"/><circle cx="39.4" cy="5.3" r="1.1" fill="#000"/><rect x="42.2" y="14.7" width="2.6" height="1.5" fill="#000" transform="rotate(153 42.2 14.7)"/><rect x="48.8" y="22.7" width="2.6" height="1.5" fill="#000" transform="rotate(86 48.8 22.7)"/><circle cx="14.6" cy="20.2" r="0.9" fill="#000"/><circle cx="49.4" cy="48.0" r="1.3" fill="#000"/><rect x="16.9" y="4.5" width="2.2" height="1.3" fill="#000" transform="rotate(156 16.9 4.5)"/><rect x="18.1" y="39.3" width="3.1" height="1.8" fill="#000" transform="rotate(120 18.1 39.3)"/><circle cx="38.0" cy="18.2" r="1.4" fill="#000"/><circle cx="24.3" cy="38.5" r="1.4" fill="#000"/><circle cx="47.3" cy="32.5" r="1.3" fill="#000"/><circle cx="27.3" cy="12.5" r="1.3" fill="#000"/><circle cx="40.8" cy="32.4" r="1.4" fill="#000"/><circle cx="32.2" cy="36.9" r="1.5" fill="#000"/><rect x="42.1" y="43.5" width="3.0" height="1.8" fill="#000" transform="rotate(172 42.1 43.5)"/><rect x="25.9" y="26.5" width="2.1" height="1.2" fill="#000" transform="rotate(169 25.9 26.5)"/><rect x="23.9" y="34.6" width="3.0" height="1.8" fill="#000" transform="rotate(31 23.9 34.6)"/><circle cx="39.0" cy="29.0" r="1.3" fill="#000"/><rect x="31.2" y="38.7" width="2.9" height="1.7" fill="#000" transform="rotate(5 31.2 38.7)"/></pattern><pattern id="stW" width="40" height="40" patternUnits="userSpaceOnUse"><rect width="40" height="40" fill="#000"/><circle cx="18.5" cy="14.9" r="1.2" fill="#fff"/><circle cx="34.7" cy="0.3" r="1.6" fill="#fff"/><circle cx="35.9" cy="3.2" r="1.7" fill="#fff"/><circle cx="24.7" cy="1.6" r="1.5" fill="#fff"/><circle cx="28.1" cy="18.1" r="1.9" fill="#fff"/><circle cx="6.3" cy="9.5" r="1.1" fill="#fff"/><circle cx="20.3" cy="37.0" r="1.7" fill="#fff"/><circle cx="31.0" cy="15.3" r="1.9" fill="#fff"/><circle cx="4.1" cy="11.6" r="1.8" fill="#fff"/><circle cx="29.0" cy="16.9" r="1.1" fill="#fff"/><circle cx="10.7" cy="8.4" r="1.3" fill="#fff"/><circle cx="32.4" cy="8.0" r="2.1" fill="#fff"/><circle cx="35.2" cy="2.2" r="1.5" fill="#fff"/><circle cx="19.7" cy="0.9" r="1.5" fill="#fff"/><circle cx="36.3" cy="4.5" r="1.7" fill="#fff"/><circle cx="4.8" cy="23.1" r="2.1" fill="#fff"/><circle cx="8.1" cy="0.3" r="1.1" fill="#fff"/><circle cx="21.6" cy="0.7" r="1.1" fill="#fff"/><circle cx="19.9" cy="36.8" r="1.5" fill="#fff"/><circle cx="15.9" cy="25.5" r="1.1" fill="#fff"/><circle cx="23.2" cy="6.9" r="1.7" fill="#fff"/><circle cx="38.3" cy="2.2" r="1.7" fill="#fff"/></pattern><pattern id="stW2" width="40" height="40" patternUnits="userSpaceOnUse"><rect width="40" height="40" fill="#000"/><circle cx="19.0" cy="26.3" r="1.9" fill="#fff"/><circle cx="5.7" cy="0.4" r="1.5" fill="#fff"/><circle cx="11.0" cy="32.4" r="2.0" fill="#fff"/><circle cx="24.1" cy="22.3" r="1.9" fill="#fff"/><circle cx="5.8" cy="17.6" r="1.2" fill="#fff"/><circle cx="36.2" cy="2.4" r="2.1" fill="#fff"/><circle cx="3.0" cy="27.5" r="1.5" fill="#fff"/><circle cx="16.2" cy="33.7" r="1.0" fill="#fff"/><circle cx="2.4" cy="36.6" r="1.7" fill="#fff"/><circle cx="3.6" cy="39.5" r="2.3" fill="#fff"/><circle cx="4.5" cy="16.9" r="1.2" fill="#fff"/><circle cx="12.5" cy="24.9" r="1.2" fill="#fff"/><circle cx="27.9" cy="2.1" r="1.2" fill="#fff"/><circle cx="32.6" cy="16.0" r="1.6" fill="#fff"/><circle cx="23.8" cy="19.1" r="1.5" fill="#fff"/><circle cx="1.2" cy="29.1" r="2.4" fill="#fff"/><circle cx="39.1" cy="26.5" r="1.5" fill="#fff"/><circle cx="14.5" cy="27.6" r="1.9" fill="#fff"/><circle cx="4.6" cy="9.4" r="1.5" fill="#fff"/><circle cx="20.5" cy="32.4" r="1.7" fill="#fff"/><circle cx="1.1" cy="32.9" r="1.6" fill="#fff"/><circle cx="20.8" cy="8.9" r="1.6" fill="#fff"/><circle cx="15.5" cy="30.9" r="1.1" fill="#fff"/><circle cx="22.0" cy="7.1" r="2.0" fill="#fff"/><circle cx="1.5" cy="11.1" r="1.5" fill="#fff"/><circle cx="25.5" cy="2.1" r="1.6" fill="#fff"/><circle cx="8.4" cy="11.3" r="1.7" fill="#fff"/><circle cx="38.3" cy="19.2" r="2.3" fill="#fff"/><circle cx="6.7" cy="37.0" r="1.5" fill="#fff"/><circle cx="7.6" cy="29.9" r="2.3" fill="#fff"/><circle cx="0.3" cy="10.7" r="2.1" fill="#fff"/><circle cx="13.7" cy="9.7" r="1.0" fill="#fff"/><circle cx="1.6" cy="24.8" r="2.4" fill="#fff"/><circle cx="39.9" cy="20.1" r="1.0" fill="#fff"/><circle cx="12.9" cy="31.5" r="2.2" fill="#fff"/><circle cx="25.6" cy="9.2" r="1.7" fill="#fff"/><circle cx="19.1" cy="25.1" r="1.4" fill="#fff"/><circle cx="37.9" cy="35.8" r="1.2" fill="#fff"/><circle cx="11.7" cy="34.9" r="1.4" fill="#fff"/><circle cx="37.8" cy="20.6" r="2.0" fill="#fff"/><circle cx="28.2" cy="8.6" r="1.4" fill="#fff"/><circle cx="10.2" cy="27.3" r="2.0" fill="#fff"/><circle cx="5.3" cy="35.5" r="1.6" fill="#fff"/><circle cx="9.6" cy="17.4" r="2.4" fill="#fff"/><circle cx="22.4" cy="25.0" r="2.3" fill="#fff"/><circle cx="38.5" cy="30.4" r="1.6" fill="#fff"/><circle cx="23.5" cy="36.0" r="2.1" fill="#fff"/><circle cx="23.2" cy="13.9" r="1.5" fill="#fff"/><circle cx="29.4" cy="22.5" r="1.0" fill="#fff"/><circle cx="28.4" cy="36.2" r="2.1" fill="#fff"/><circle cx="35.9" cy="36.4" r="1.7" fill="#fff"/><circle cx="31.6" cy="15.2" r="1.1" fill="#fff"/><circle cx="14.1" cy="12.5" r="2.3" fill="#fff"/><circle cx="27.6" cy="21.7" r="1.9" fill="#fff"/><circle cx="5.0" cy="21.4" r="2.0" fill="#fff"/><circle cx="15.8" cy="9.8" r="1.6" fill="#fff"/><circle cx="12.9" cy="27.4" r="1.2" fill="#fff"/><circle cx="3.6" cy="12.5" r="2.0" fill="#fff"/><circle cx="30.4" cy="26.4" r="2.3" fill="#fff"/><circle cx="14.6" cy="1.2" r="1.7" fill="#fff"/></pattern><pattern id="stL" width="60" height="60" patternUnits="userSpaceOnUse"><circle cx="9.9" cy="41.4" r="1.8" fill="#000"/><rect x="13.0" y="47.6" width="4.5" height="2.7" fill="#000" transform="rotate(91 13.0 47.6)"/><rect x="14.2" y="0.2" width="3.3" height="1.9" fill="#000" transform="rotate(12 14.2 0.2)"/><circle cx="47.6" cy="13.9" r="1.3" fill="#000"/><rect x="59.9" y="44.3" width="4.7" height="2.8" fill="#000" transform="rotate(6 59.9 44.3)"/><rect x="19.7" y="29.9" width="2.5" height="1.5" fill="#000" transform="rotate(66 19.7 29.9)"/><rect x="9.3" y="49.1" width="2.6" height="1.5" fill="#000" transform="rotate(82 9.3 49.1)"/><circle cx="33.1" cy="20.6" r="1.6" fill="#000"/><rect x="2.2" y="52.0" width="2.9" height="1.7" fill="#000" transform="rotate(38 2.2 52.0)"/><rect x="58.1" y="53.6" width="4.4" height="2.6" fill="#000" transform="rotate(105 58.1 53.6)"/><rect x="43.8" y="7.3" width="3.6" height="2.1" fill="#000" transform="rotate(36 43.8 7.3)"/><circle cx="55.4" cy="53.3" r="1.5" fill="#000"/><circle cx="27.1" cy="23.1" r="2.3" fill="#000"/><rect x="1.6" y="5.6" width="4.3" height="2.5" fill="#000" transform="rotate(89 1.6 5.6)"/><circle cx="29.5" cy="33.0" r="2.0" fill="#000"/><circle cx="36.5" cy="33.4" r="1.8" fill="#000"/><circle cx="10.2" cy="20.9" r="2.2" fill="#000"/><circle cx="35.8" cy="18.4" r="1.1" fill="#000"/><rect x="48.8" y="46.6" width="3.3" height="1.9" fill="#000" transform="rotate(122 48.8 46.6)"/><rect x="53.9" y="57.5" width="3.4" height="2.0" fill="#000" transform="rotate(173 53.9 57.5)"/><circle cx="35.4" cy="53.0" r="1.6" fill="#000"/><circle cx="14.8" cy="52.6" r="1.2" fill="#000"/><rect x="48.3" y="46.4" width="3.6" height="2.1" fill="#000" transform="rotate(9 48.3 46.4)"/><circle cx="15.5" cy="17.4" r="1.5" fill="#000"/><rect x="4.2" y="20.3" width="4.8" height="2.8" fill="#000" transform="rotate(134 4.2 20.3)"/><rect x="28.7" y="15.1" width="4.9" height="2.9" fill="#000" transform="rotate(131 28.7 15.1)"/><rect x="1.7" y="12.7" width="4.6" height="2.7" fill="#000" transform="rotate(159 1.7 12.7)"/><rect x="36.1" y="25.6" width="3.9" height="2.3" fill="#000" transform="rotate(55 36.1 25.6)"/><circle cx="32.1" cy="16.6" r="2.0" fill="#000"/><rect x="41.1" y="57.2" width="2.3" height="1.3" fill="#000" transform="rotate(116 41.1 57.2)"/><circle cx="51.1" cy="35.1" r="1.3" fill="#000"/><circle cx="57.5" cy="54.3" r="1.2" fill="#000"/><circle cx="5.6" cy="1.5" r="1.6" fill="#000"/><rect x="52.0" y="39.3" width="2.6" height="1.5" fill="#000" transform="rotate(58 52.0 39.3)"/><circle cx="29.6" cy="13.2" r="1.2" fill="#000"/><circle cx="22.7" cy="42.6" r="1.7" fill="#000"/><rect x="42.7" y="52.4" width="4.4" height="2.6" fill="#000" transform="rotate(1 42.7 52.4)"/><circle cx="27.8" cy="3.8" r="2.0" fill="#000"/><circle cx="42.7" cy="15.2" r="1.9" fill="#000"/><rect x="2.5" y="23.3" width="3.1" height="1.8" fill="#000" transform="rotate(53 2.5 23.3)"/><circle cx="30.2" cy="33.0" r="2.2" fill="#000"/><rect x="36.1" y="30.5" width="4.3" height="2.5" fill="#000" transform="rotate(56 36.1 30.5)"/><circle cx="42.0" cy="31.5" r="1.7" fill="#000"/><circle cx="48.9" cy="58.6" r="1.5" fill="#000"/><circle cx="59.6" cy="6.5" r="1.1" fill="#000"/><rect x="48.9" y="45.6" width="3.5" height="2.1" fill="#000" transform="rotate(4 48.9 45.6)"/><circle cx="38.7" cy="26.6" r="1.7" fill="#000"/><circle cx="24.1" cy="13.5" r="1.1" fill="#000"/><rect x="14.8" y="42.3" width="4.5" height="2.7" fill="#000" transform="rotate(82 14.8 42.3)"/><rect x="14.2" y="23.1" width="3.6" height="2.1" fill="#000" transform="rotate(173 14.2 23.1)"/><rect x="5.1" y="28.8" width="3.6" height="2.1" fill="#000" transform="rotate(160 5.1 28.8)"/><rect x="46.8" y="37.6" width="4.4" height="2.6" fill="#000" transform="rotate(155 46.8 37.6)"/><rect x="41.9" y="41.0" width="2.9" height="1.7" fill="#000" transform="rotate(69 41.9 41.0)"/><rect x="36.9" y="49.5" width="5.0" height="2.9" fill="#000" transform="rotate(1 36.9 49.5)"/><circle cx="18.8" cy="18.7" r="1.5" fill="#000"/><rect x="33.2" y="4.8" width="3.1" height="1.8" fill="#000" transform="rotate(134 33.2 4.8)"/><rect x="27.7" y="6.5" width="4.9" height="2.9" fill="#000" transform="rotate(37 27.7 6.5)"/><circle cx="20.1" cy="38.5" r="1.9" fill="#000"/><rect x="57.1" y="19.3" width="2.9" height="1.7" fill="#000" transform="rotate(28 57.1 19.3)"/><circle cx="40.9" cy="12.0" r="1.8" fill="#000"/><circle cx="22.7" cy="56.4" r="1.6" fill="#000"/><circle cx="37.0" cy="16.8" r="1.2" fill="#000"/><circle cx="16.3" cy="11.3" r="2.2" fill="#000"/><circle cx="48.6" cy="56.1" r="1.9" fill="#000"/><rect x="30.1" y="2.4" width="3.9" height="2.3" fill="#000" transform="rotate(43 30.1 2.4)"/><circle cx="0.5" cy="32.7" r="1.1" fill="#000"/><circle cx="27.2" cy="53.7" r="1.5" fill="#000"/><circle cx="47.5" cy="49.3" r="1.7" fill="#000"/><circle cx="11.3" cy="24.2" r="1.7" fill="#000"/><rect x="48.1" y="50.6" width="4.8" height="2.9" fill="#000" transform="rotate(3 48.1 50.6)"/><rect x="34.9" y="4.8" width="4.8" height="2.8" fill="#000" transform="rotate(137 34.9 4.8)"/><rect x="11.3" y="3.6" width="4.5" height="2.7" fill="#000" transform="rotate(112 11.3 3.6)"/><circle cx="28.3" cy="48.0" r="1.4" fill="#000"/><rect x="21.2" y="17.9" width="4.0" height="2.4" fill="#000" transform="rotate(13 21.2 17.9)"/><circle cx="4.1" cy="30.7" r="1.9" fill="#000"/><circle cx="16.2" cy="3.5" r="1.0" fill="#000"/><circle cx="40.8" cy="39.2" r="1.2" fill="#000"/><rect x="55.9" y="32.3" width="3.4" height="2.0" fill="#000" transform="rotate(131 55.9 32.3)"/><circle cx="31.5" cy="4.7" r="2.1" fill="#000"/><rect x="2.4" y="21.1" width="3.7" height="2.2" fill="#000" transform="rotate(31 2.4 21.1)"/><rect x="42.6" y="29.6" width="2.7" height="1.6" fill="#000" transform="rotate(145 42.6 29.6)"/><rect x="54.4" y="40.8" width="2.8" height="1.7" fill="#000" transform="rotate(162 54.4 40.8)"/><circle cx="32.0" cy="54.5" r="2.3" fill="#000"/><circle cx="56.5" cy="56.2" r="2.0" fill="#000"/><rect x="21.1" y="36.8" width="3.9" height="2.3" fill="#000" transform="rotate(116 21.1 36.8)"/><rect x="9.7" y="55.8" width="3.7" height="2.2" fill="#000" transform="rotate(37 9.7 55.8)"/><rect x="59.9" y="33.3" width="4.4" height="2.6" fill="#000" transform="rotate(159 59.9 33.3)"/><circle cx="21.7" cy="5.0" r="1.5" fill="#000"/><circle cx="32.4" cy="48.9" r="1.5" fill="#000"/><circle cx="1.6" cy="25.4" r="1.8" fill="#000"/><rect x="39.9" y="12.7" width="2.5" height="1.5" fill="#000" transform="rotate(94 39.9 12.7)"/><circle cx="53.7" cy="30.8" r="1.2" fill="#000"/><rect x="25.5" y="38.5" width="4.4" height="2.6" fill="#000" transform="rotate(117 25.5 38.5)"/><circle cx="15.2" cy="25.8" r="1.5" fill="#000"/><circle cx="15.9" cy="32.3" r="1.6" fill="#000"/><rect x="49.4" y="35.2" width="4.5" height="2.7" fill="#000" transform="rotate(132 49.4 35.2)"/><circle cx="59.6" cy="22.6" r="1.5" fill="#000"/><rect x="39.9" y="34.9" width="3.8" height="2.3" fill="#000" transform="rotate(35 39.9 34.9)"/><circle cx="13.6" cy="44.0" r="2.1" fill="#000"/><circle cx="3.3" cy="22.2" r="2.1" fill="#000"/><rect x="27.7" y="23.4" width="4.0" height="2.4" fill="#000" transform="rotate(125 27.7 23.4)"/><circle cx="51.9" cy="45.1" r="1.5" fill="#000"/><circle cx="46.9" cy="47.6" r="2.2" fill="#000"/><circle cx="50.9" cy="53.4" r="1.1" fill="#000"/><circle cx="38.0" cy="8.8" r="2.1" fill="#000"/><circle cx="40.9" cy="17.7" r="1.3" fill="#000"/><rect x="29.9" y="42.8" width="2.8" height="1.7" fill="#000" transform="rotate(60 29.9 42.8)"/><circle cx="39.0" cy="22.1" r="1.3" fill="#000"/><circle cx="3.5" cy="41.8" r="1.5" fill="#000"/><rect x="52.8" y="39.3" width="2.3" height="1.3" fill="#000" transform="rotate(107 52.8 39.3)"/><circle cx="26.6" cy="30.0" r="2.3" fill="#000"/><circle cx="38.2" cy="38.1" r="1.5" fill="#000"/><rect x="45.3" y="38.1" width="3.5" height="2.1" fill="#000" transform="rotate(40 45.3 38.1)"/><circle cx="47.4" cy="1.2" r="1.8" fill="#000"/><circle cx="13.3" cy="35.2" r="1.8" fill="#000"/><circle cx="29.4" cy="9.9" r="2.0" fill="#000"/><circle cx="19.7" cy="12.9" r="1.1" fill="#000"/><circle cx="9.1" cy="37.5" r="2.1" fill="#000"/><circle cx="6.7" cy="32.1" r="1.2" fill="#000"/><rect x="45.7" y="12.2" width="4.2" height="2.5" fill="#000" transform="rotate(15 45.7 12.2)"/></pattern></defs>
<rect x="0" y="0" width="2399" height="3153" fill="#fff"/>
<g fill="none" stroke="#000" stroke-linecap="round" stroke-linejoin="round">
<ellipse cx="1646" cy="355" rx="5" ry="11" transform="rotate(-10 1646 355)" stroke-width="2.5" fill="none" />
<line x1="1652" y1="372" x2="1668" y2="428" stroke-width="2" stroke-dasharray="12 9" stroke-linecap="butt"/>
<path d="M1898,336 L1917,326 L1922,328 L1923,333 L1904,343 L1899,341 Z" stroke-width="2.5" fill="#fff" />
<ellipse cx="1920" cy="330" rx="3" ry="5" transform="rotate(-30 1920 330)" stroke-width="2.5" fill="#000" />
<line x1="1897" y1="342" x2="1879" y2="351" stroke-width="1.8" />
<path d="M1966,490 L1977,482 L1977,476 L1987,470 L1993,463 L1998,464 L2003,471 L2003,477 L1995,481 L1983,484 L1978,487 L1966,491 Z" stroke-width="1.5" fill="#000" />
<path d="M2015.7,293.6 C2022,294 2027,296 2031,299 L2055,320.7 C2058,322 2061,321 2065,323 C2071,326 2076,331 2077,336 L2076,340 C2081,344 2085,350 2087,357 L2088,369 C2086,375 2083,379 2078,381 L2071,383.6 L2062,381 L2057,385.7 L2048.6,385.7 L2039,376 L2035.7,365.7 L2015.7,353.6 L2001,343 C1997,338 1995.7,333 1995.7,328 L1995.7,312 C1996,306 2000,299 2005.7,295.7 Z" stroke-width="4.5" fill="#fff" />
<path d="M2014,300 C2022,300 2026,302 2030,306 L2050,327" stroke-width="1.8" fill="none" />
<path d="M2041,332 L2055,344 L2057,353 L2042,352 Z" stroke-width="4.2" fill="none" />
<path d="M2038,352 L2034,353" stroke-width="2.5" fill="none" />
<path d="M2058,338 C2058,334 2062,333 2066,334 C2070,336 2073,340 2071,344 C2068,347 2062,347 2060,344 Z" stroke-width="4" fill="none" />
<path d="M2052,356 C2060,353 2068,355 2073,361 C2076,366 2075,371 2070,372 C2064,372 2060,368 2058,362" stroke-width="4.5" fill="none" />
<path d="M2047,366 C2045,370 2046,374 2050,376 C2054,378 2057,375 2056,371 C2055,367 2050,364 2047,366 Z" stroke-width="4" fill="none" />
<path d="M2077,340 C2082,346 2085,355 2084,372" stroke-width="2" fill="none" />
<path d="M1753.6,334 L1916.6,422 L1920.7,427.8 L1927,460 L1933,506.6 L1938.4,520 L1930,547 L1927.5,574.5 L1920,606 L1916.6,614 L1748,517.5 L1742.7,506.6 L1740,452 L1742.7,370.8 Z" stroke-width="7" fill="url(#stW2)" />
<path d="M1760.4,353 L1909.8,431 L1911,436 L1915,480 L1920.7,527 L1914,570 L1910,590 L1905,598 L1753.6,505 L1752,470 L1754,400 L1757.7,357 Z" stroke-width="0" fill="#fff" stroke="none"/>
<path d="M1760.4,353 L1909.8,431 L1911,436 L1915,480 L1920.7,527 L1914,570 L1910,590 L1905,598 L1753.6,505 L1752,470 L1754,400 L1757.7,357 Z" stroke-width="4" fill="url(#stL)" />
<ellipse cx="1848" cy="462" rx="47" ry="64" transform="rotate(-23.5 1848 462)" stroke-width="3" fill="#000" />
<path d="M1820.9,460.6 L1820.6,457.7 L1820.5,454.8 L1820.5,451.9 L1820.8,449.1 L1821.3,446.5 L1822,443.9 L1822.9,441.5 L1824,439.2 L1825.3,437.1 L1826.7,435.2" stroke="#fff" stroke-width="2" fill="none"/>
<path d="M1842.9,428.1 L1844.8,428.3 L1846.7,428.7 L1848.7,429.2 L1850.6,429.8 L1852.5,430.6 L1854.4,431.6 L1856.2,432.7 L1858,434 L1859.8,435.4 L1861.5,436.9" stroke="#fff" stroke-width="2" fill="none"/>
<path d="M1875.1,463.4 L1875.4,465.7 L1875.5,468.1 L1875.5,470.4 L1875.4,472.6 L1875.2,474.9 L1874.8,477 L1874.3,479.1 L1873.7,481.1 L1872.9,483 L1872,484.8" stroke="#fff" stroke-width="2" fill="none"/>
<path d="M1848.4,507.1 L1845.8,506.4 L1843.2,505.3 L1840.6,504.1 L1838,502.7 L1835.5,501.1 L1833.1,499.2 L1830.7,497.2 L1828.4,495.1 L1826.3,492.7 L1824.2,490.3" stroke="#fff" stroke-width="2" fill="none"/>
<path d="M1808.9,451.8 L1809,449.3 L1809.1,446.9 L1809.3,444.6 L1809.7,442.2 L1810.2,440 L1810.7,437.8 L1811.4,435.6 L1812.1,433.6 L1813,431.6 L1814,429.7" stroke="#fff" stroke-width="2" fill="none"/>
<path d="M1847.6,413.8 L1850.4,414.7 L1853.1,415.8 L1855.9,417.1 L1858.6,418.6 L1861.3,420.3 L1863.9,422.3 L1866.4,424.4 L1868.9,426.7 L1871.2,429.2 L1873.4,431.9" stroke="#fff" stroke-width="2" fill="none"/>
<path d="M1888.1,472.5 L1888,475.8 L1887.7,479.1 L1887.3,482.3 L1886.6,485.4 L1885.8,488.3 L1884.8,491.2 L1883.6,493.9 L1882.2,496.4 L1880.7,498.8 L1879,501" stroke="#fff" stroke-width="2" fill="none"/>
<ellipse cx="1850" cy="462" rx="5" ry="9" transform="rotate(-23.5 1850 462)" stroke-width="0" fill="#fff" stroke="none"/>
<ellipse cx="1876" cy="510" rx="3.5" ry="5" transform="rotate(-23.5 1876 510)" stroke-width="1.5" fill="#fff" stroke="#fff"/>
<line x1="1724" y1="505" x2="1739" y2="513" stroke-width="2" />
<line x1="1788" y1="590" x2="1806" y2="581" stroke-width="2" />
<line x1="1880" y1="351" x2="1897" y2="342" stroke-width="1.5" />
<ellipse cx="1671" cy="562" rx="72.5" ry="44.6" transform="rotate(55.7 1671 562)" stroke-width="4.5" fill="#fff" />
<ellipse cx="1669" cy="563" rx="69" ry="41.5" transform="rotate(55.7 1669 563)" stroke-width="1.5" fill="none" />
<path d="M1672,475 L1679,475 L1693,487 L1694,512 L1687,506 L1672,500 Z" stroke-width="3" fill="url(#stA)" />
<path d="M1629,483 L1640,479 L1646,481 L1651,486 L1659,492 L1646,497 L1631,492 Z" stroke-width="3" fill="#fff" />
<path d="M1646,482 L1652,488 L1659,492 L1648,495 Z" stroke-width="1" fill="#000" />
<path d="M1718,532 L1730,528 L1733,531 L1722,540 Z" stroke-width="3" fill="#000" />
<path d="M1730,578 L1745,591 L1750,600 L1749,604 L1743,604 L1732,596 Z" stroke-width="3" fill="#fff" />
<path d="M1712,619 L1726,614 L1731,624 L1726,640 L1719,641 L1710,630 Z" stroke-width="3.5" fill="#fff" />
<path d="M1627,590 L1637,582 L1642,590" stroke-width="2.5" fill="none" />
<path d="M1651.4,550 L1671.4,535.7 L1681.4,531.4 L1695.7,542.9 L1702.9,557.1 L1707.1,574.3 L1688.6,575.7 L1670,582.9 L1660,578.6 L1651.4,572.9 Z" stroke-width="3.5" fill="#fff" />
<path d="M1652.9,552.9 C1655.5,548.3 1665.2,544.8 1668.6,544.3 C1671.9,543.8 1671.9,546.7 1672.9,550 C1673.8,553.3 1673.3,560 1674.3,564.3 C1675.2,568.6 1679.5,572.6 1678.6,575.7 C1677.6,578.8 1671.9,582.6 1668.6,582.9 C1665.2,583.1 1661.2,579 1658.6,577.1 C1656,575.2 1653.8,575.5 1652.9,571.4 C1651.9,567.4 1650.2,557.4 1652.9,552.9 Z" stroke-width="0" fill="#000" stroke="none"/>
<path d="M1661.4,570 C1662.6,568.1 1667.9,564.5 1670,564.3 C1672.1,564 1673.6,566.2 1674.3,568.6 C1675,571 1675.2,576.4 1674.3,578.6 C1673.3,580.7 1670.5,581.9 1668.6,581.4 C1666.7,581 1664,577.6 1662.9,575.7 C1661.7,573.8 1660.2,571.9 1661.4,570 Z" stroke-width="0" fill="#fff" stroke="none"/>
<path d="M1681.4,535.7 C1683.3,537.1 1690,540.5 1692.9,544.3 C1695.7,548.1 1697.4,553.6 1698.6,558.6 C1699.8,563.6 1699.8,571.7 1700,574.3" stroke-width="2.5" fill="none" />
<path d="M1685.7,534.3 C1687.6,536 1694.3,540.2 1697.1,544.3 C1700,548.3 1701.7,553.6 1702.9,558.6 C1704,563.6 1704,571.7 1704.3,574.3" stroke-width="2" fill="none" />
<path d="M1671.4,544.3 L1678.6,567.1 L1681.4,575.7" stroke-width="3" fill="none" />
<path d="M1680,524.3 L1682.9,530 L1681.4,535.7" stroke-width="3" fill="none" />
<path d="M1548.4,627 L1607.9,594.8 L1611.1,596.4 L1622.3,660.7 L1623.9,676.8 L1620.7,773.2 L1615.9,774.8 L1551.6,805.4 L1554.8,708.9 Z" stroke-width="3" fill="url(#stB)" />
<path d="M1562.1,686.4 L1619.1,657.5" stroke-width="4" fill="none" />
<path d="M1562.9,766.8 L1618.3,739.5" stroke-width="4" fill="none" />
<path d="M1389.3,540.2 L1447.1,508 L1460,504.8 L1469.6,509.6 L1607.9,594.8 L1548.4,627 Z" stroke-width="3.5" fill="#fff" />
<path d="M1395.7,539.4 L1546.8,627" stroke-width="4" fill="none" />
<path d="M1389.3,540.2 L1395.7,539.4 L1546.8,627 L1551.6,805.4 L1546.8,805.4 L1392.5,721.8 L1382.9,708.9 L1378,660.7 L1376.4,580.4 Z" stroke-width="4.5" fill="#fff" />
<path d="M1389.3,541.8 L1376.4,580.4 L1378,660.7 L1382.9,708.9 L1392.5,721.8 L1398.9,717 L1389.3,700.9 L1386.1,660.7 L1386.1,596.4 L1394.1,556.3 Z" stroke-width="2" fill="url(#stW)" />
<ellipse cx="1476" cy="677" rx="100" ry="68" transform="rotate(72 1476 677)" stroke-width="6" fill="none" />
<ellipse cx="1478" cy="677" rx="93" ry="62" transform="rotate(72 1478 677)" stroke-width="2.5" fill="none" />
<path d="M1402.1,604.5 L1411.8,585.2 L1423,577.1 L1442.3,575.5 L1460,583.6 L1466.4,599.6 L1460,622.1 L1456.8,638.2 L1453.6,660.7 L1450.4,684.8 L1431.1,696.1 L1418.2,692.9 L1407,676.8 L1400.5,652.7 L1398.9,628.6 Z" stroke-width="2" fill="url(#stA)" />
<ellipse cx="1482" cy="669" rx="31" ry="23" transform="rotate(62 1482 669)" stroke-width="4.5" fill="#fff" />
<ellipse cx="1481" cy="670" rx="24" ry="17" transform="rotate(62 1481 670)" stroke-width="2.5" fill="url(#stC)" />
<path d="M1488.9,612.5 L1498.6,596.4" stroke-width="5" fill="none" />
<path d="M1508.2,612.5 L1522.7,606.1" stroke-width="5" fill="none" />
<path d="M1503.4,652.7 L1546.8,627" stroke-width="5" fill="none" />
<path d="M1493.8,705.7 L1493.8,733" stroke-width="5" fill="none" />
<path d="M1522.7,684.8 L1551.6,729.8" stroke-width="5" fill="none" />
<path d="M1466.4,628.6 L1453.6,615.7" stroke-width="5" fill="none" />
<path d="M1463.2,580.4 L1482.5,622.1" stroke-width="3" fill="none" />
<path d="M1503.4,660.7 L1508.2,692.9 L1522.7,708.9 L1540.4,741.1 L1543.6,789.3" stroke-width="3" fill="none" />
<path d="M1524.3,631.8 L1538.8,660.7 L1546.8,692.9 L1553.2,773.2" stroke-width="6" fill="none" />
<path d="M1445.5,737.9 L1460,731.4 L1482.5,731.4 L1501.8,739.5 L1514.6,750.7 L1517.9,763.6 L1511.4,773.2 L1498.6,773.2" stroke-width="3.5" fill="none" />
<path d="M1392.5,721.8 L1450.4,750.7 L1498.6,773.2 L1546.8,805.4" stroke-width="6" fill="none" />
<line x1="1480" y1="511" x2="1480" y2="577" stroke-width="2.2" stroke-dasharray="12 8" stroke-linecap="butt"/>
<ellipse cx="1482" cy="579" rx="4" ry="3" transform="rotate(0 1482 579)" stroke-width="2" fill="none" />
<line x1="1530.7" y1="543.4" x2="1543.6" y2="540.2" stroke-width="2" />
<line x1="1607.9" y1="594.8" x2="1618.3" y2="592.4" stroke-width="2" />
<line x1="1623.9" y1="678.4" x2="1633.6" y2="676.8" stroke-width="2" />
<path d="M1270.7,664.4 C1284.3,665.5 1303,671.6 1317.9,682.7 C1332.7,693.9 1348.9,712.6 1359.8,731.2 C1370.7,749.7 1379.2,777 1383.3,794.1 C1387.5,811.1 1386.8,822.4 1384.7,833.3 C1382.5,844.3 1377,853 1370.2,859.5 C1363.5,866.1 1351.7,870 1344.1,872.6 C1336.4,875.2 1335.3,878.5 1324.4,875.2 C1313.5,872 1290.6,861.1 1278.6,853 C1266.6,844.9 1260,835.5 1252.4,826.8 C1244.7,818.1 1238.6,811.5 1232.7,800.6 C1226.8,789.7 1220.1,773.3 1217,761.3 C1214,749.3 1214,738.8 1214.4,728.6 C1214.8,718.3 1215.9,708.5 1219.6,699.8 C1223.4,691 1228.2,682.1 1236.7,676.2 C1245.2,670.3 1257.2,663.3 1270.7,664.4 Z" stroke-width="3.5" fill="url(#stE)" />
<path d="M1249.8,677.5 C1258.7,673.8 1278.1,677.5 1291.7,682.7 C1305.2,688 1320,696.9 1331,708.9 C1341.9,720.9 1350.8,739.5 1357.2,754.8 C1363.5,770 1367.2,786.4 1368.9,800.6 C1370.7,814.8 1370,829.6 1367.6,839.9 C1365.2,850.1 1359.6,858.2 1354.5,862.2 C1349.5,866.1 1350.2,868.3 1337.5,863.5 C1324.8,858.7 1290.6,839.9 1278.6,833.3 C1266.6,826.8 1269.2,830.7 1265.5,824.2 C1261.8,817.6 1260.2,806.7 1256.3,794.1 C1252.4,781.4 1245,763.1 1241.9,748.2 C1238.9,733.4 1236.7,716.8 1238,705 C1239.3,693.2 1240.8,681.2 1249.8,677.5 Z" stroke-width="3" fill="#fff" />
<path d="M1270.7,665.7 C1278.1,667.8 1303.1,672.4 1317.9,683.4 C1332.6,694.4 1348.3,713.4 1359.1,731.8 C1369.9,750.3 1378.6,777.1 1382.7,794.1 C1386.8,811 1385.8,822.5 1383.6,833.3 C1381.4,844.1 1376.2,852.5 1369.6,858.9 C1363,865.2 1348.7,869.7 1344.1,871.3 C1339.4,873 1338.4,870.2 1341.4,868.7 C1344.5,867.2 1356.7,867.6 1362.4,862.2 C1368.1,856.7 1373.5,847.3 1375.5,836 C1377.4,824.6 1378.1,810.9 1374.2,794.1 C1370.2,777.2 1361.7,752.6 1351.9,735.1 C1342.1,717.7 1328.3,700 1315.2,689.3 C1302.1,678.6 1280.8,674.9 1273.3,671 C1265.9,667 1263.3,663.6 1270.7,665.7 Z" stroke-width="0" fill="#fff" stroke="none"/>
<path d="M1273.3,671 C1280.3,674 1302.1,678.6 1315.2,689.3 C1328.3,700 1342.1,717.7 1351.9,735.1 C1361.7,752.6 1370.2,777.2 1374.2,794.1 C1378.1,810.9 1377.4,824.6 1375.5,836 C1373.5,847.3 1368.1,856.7 1362.4,862.2 C1356.7,867.6 1344.9,867.6 1341.4,868.7" stroke-width="4" fill="none" />
<path d="M1270.7,665.7 C1278.6,668.7 1303.1,672.4 1317.9,683.4 C1332.6,694.4 1348.3,713.4 1359.1,731.8 C1369.9,750.3 1378.6,777.1 1382.7,794.1 C1386.8,811 1385.8,822.5 1383.6,833.3 C1381.4,844.1 1376.2,852.5 1369.6,858.9 C1363,865.2 1348.3,869.2 1344.1,871.3" stroke-width="1.5" fill="none" />
<path d="M1262.9,830.7 L1278.6,833.3 L1342.7,864.8 L1331,872.6 L1278.6,853 L1258.9,836 Z" stroke-width="3" fill="#fff" />
<path d="M1268.1,839.9 L1331,871.3" stroke-width="2" fill="none" />
<path d="M1270.7,667.7 C1278.4,670.6 1302.1,674.6 1316.6,685.4 C1331,696.2 1346.5,714.4 1357.2,732.5 C1367.8,750.6 1376.6,777.2 1380.7,794.1 C1384.9,810.9 1384,822.6 1382,833.3 C1380.1,844 1375.3,852 1368.9,858.2 C1362.6,864.4 1348.2,868.6 1344.1,870.7" stroke-width="1.5" fill="none" />
<line x1="1302.1" y1="770.5" x2="1319.2" y2="761.3" stroke-width="2" />
<line x1="1329.6" y1="754.8" x2="1344.7" y2="746.9" stroke-width="2" />
<line x1="1358.5" y1="739.1" x2="1372.9" y2="731.2" stroke-width="2" />
<line x1="1224.2" y1="814.4" x2="1235.4" y2="807.2" stroke-width="2" />
<path d="M1177.5,805 C1180,801.1 1187.2,797.9 1191.7,796.7 C1196.1,795.4 1201,795.4 1204.2,797.5 C1207.4,799.6 1209,805.8 1210.8,809.2 C1212.6,812.5 1212.6,814 1215,817.5 C1217.4,821 1223.2,826.2 1225,830 C1226.8,833.8 1227.2,836.8 1225.8,840 C1224.4,843.2 1220.3,846.8 1216.7,849.2 C1213.1,851.5 1207.6,853.5 1204.2,854.2 C1200.7,854.9 1198.2,855.3 1195.8,853.3 C1193.5,851.4 1191.4,846.1 1190,842.5 C1188.6,838.9 1189.7,835.4 1187.5,831.7 C1185.3,827.9 1178.3,824.4 1176.7,820 C1175,815.6 1175,808.9 1177.5,805 Z" stroke-width="3.5" fill="#fff" />
<path d="M1180.8,807.5 C1182.9,804.3 1188.8,801.1 1192.5,800 C1196.2,798.9 1200.7,798.9 1203.3,800.8 C1206,802.8 1206.8,808.6 1208.3,811.7 C1209.9,814.7 1210.3,816 1212.5,819.2 C1214.7,822.4 1220,827.5 1221.7,830.8 C1223.3,834.2 1223.6,836.5 1222.5,839.2 C1221.4,841.8 1218.1,844.7 1215,846.7 C1211.9,848.6 1207.2,850.3 1204.2,850.8 C1201.1,851.4 1198.6,851.7 1196.7,850 C1194.7,848.3 1193.6,844 1192.5,840.8 C1191.4,837.6 1192.1,834.4 1190,830.8 C1187.9,827.2 1181.5,823.1 1180,819.2 C1178.5,815.3 1178.8,810.7 1180.8,807.5 Z" stroke-width="2" fill="none" />
<path d="M1184.2,812.5 C1185.8,810.1 1192.8,805.3 1195.8,805 C1198.9,804.7 1200.6,807.6 1202.5,810.8 C1204.4,814 1205,819.9 1207.5,824.2 C1210,828.5 1216.9,832.9 1217.5,836.7 C1218.1,840.4 1213.8,844.9 1210.8,846.7 C1207.9,848.5 1202.5,849.6 1200,847.5 C1197.5,845.4 1198.2,838.9 1195.8,834.2 C1193.5,829.4 1187.8,822.8 1185.8,819.2 C1183.9,815.6 1182.5,814.9 1184.2,812.5 Z" stroke-width="5" fill="none" />
<path d="M1191.7,831.7 L1203.3,826.7" stroke-width="4" fill="none" />
<path d="M1115,841 L1135.8,829 L1137.2,828.3 L1138.7,827.9 L1140.3,827.6 L1142,827.5 L1143.8,827.6 L1145.6,828 L1147.4,828.6 L1149.3,829.3 L1151.2,830.3 L1153.1,831.4 L1155,832.7 L1156.8,834.2 L1158.6,835.9 L1160.3,837.7 L1162,839.6 L1163.5,841.6 L1165,843.8 L1166.4,846 L1167.6,848.3 L1168.7,850.6 L1169.7,853 L1170.6,855.4 L1171.3,857.8 L1171.8,860.2 L1172.2,862.5 L1172.4,864.8 L1172.4,867 L1172.3,869.1 L1172,871.1 L1171.6,873 L1171,874.7 L1170.2,876.3 L1169.3,877.8 L1168.3,879 L1167.1,880.1 L1165.8,881 L1145,893 Z" stroke-width="3.5" fill="#fff" />
<ellipse cx="1130" cy="867" rx="30" ry="18" transform="rotate(60 1130 867)" stroke-width="3.5" fill="#fff" />
<path d="M1160.3,837.7 L1162.3,840 L1164.2,842.6 L1165.9,845.2 L1167.5,848 L1168.9,850.9 L1170,853.8 L1171,856.8 L1171.7,859.7 L1172.2,862.5 L1172.4,865.3 L1172.4,868 L1172.1,870.5 L1171.6,872.8 L1170.9,874.9 L1169.9,876.8 L1168.7,878.5 L1167.4,879.9 L1165.8,881 L1156.8,886 L1158.4,884.9 L1159.7,883.5 L1160.9,881.8 L1161.9,879.9 L1162.6,877.8 L1163.1,875.5 L1163.4,873 L1163.4,870.3 L1163.2,867.5 L1162.7,864.7 L1162,861.8 L1161,858.8 L1159.9,855.9 L1158.5,853 L1156.9,850.2 L1155.2,847.6 L1153.3,845 L1151.3,842.7 Z" stroke-width="0" fill="url(#stC)" stroke="none"/>
<ellipse cx="1130" cy="867" rx="26" ry="15.6" transform="rotate(60 1130 867)" stroke-width="1.5" fill="none" />
<ellipse cx="1126" cy="872" rx="14" ry="8.4" transform="rotate(60 1126 872)" stroke-width="3" fill="#000" />
<ellipse cx="1129" cy="870" rx="5" ry="7" transform="rotate(-35 1129 870)" stroke-width="0" fill="#fff" stroke="none"/>
<ellipse cx="1130" cy="867" rx="21" ry="12.6" transform="rotate(60 1130 867)" stroke-width="3.5" fill="none" />
<line x1="1108" y1="879" x2="1116" y2="875" stroke-width="1.8" />
<path d="M1162,848 C1167,846 1170,843 1174,842" stroke-width="1.8" fill="none" />
<path d="M1041,898.1 C1041,900 1041.8,906.3 1041,909.5 C1040.1,912.7 1036.8,914.9 1035.7,917.1 C1034.6,919.4 1034.5,920.3 1034.3,922.9 C1034,925.4 1033.8,929.6 1034.3,932.4 C1034.8,935.2 1035.6,937.5 1037.1,939.5 C1038.7,941.5 1041.1,942.9 1043.8,944.3 C1046.5,945.7 1050.2,947.5 1053.3,948.1 C1056.5,948.7 1059.7,948.6 1062.9,948.1 C1066,947.6 1069.2,947.1 1072.4,945.2 C1075.6,943.4 1079.9,940.1 1081.9,937.1 C1083.9,934.2 1084,930.8 1084.3,927.6 C1084.5,924.4 1084.3,921.1 1083.3,918.1 C1082.4,915.1 1080.4,911.7 1078.6,909.5 C1076.7,907.3 1074.6,906 1072.4,904.8 C1070.2,903.6 1067.2,903.7 1065.2,902.4 C1063.3,901 1061.7,898 1060.5,896.7 C1059.3,895.3 1059,893.9 1058.1,894.3 C1057.2,894.7 1055.6,897.1 1055.2,899 C1054.8,901 1054.8,904.6 1055.7,906.2 C1056.6,907.8 1058.5,907.5 1060.5,908.6 C1062.5,909.6 1065.8,910.8 1067.6,912.4 C1069.4,914 1070.6,915.6 1071.4,918.1 C1072.2,920.6 1072.6,925.2 1072.4,927.6 C1072.1,930 1071.6,930.8 1070,932.4 C1068.4,934 1065.2,936.3 1062.9,937.1 C1060.5,937.9 1058.1,937.7 1055.7,937.1 C1053.3,936.6 1050.4,935.8 1048.6,933.8 C1046.7,931.8 1045.5,928.7 1044.8,925.2 C1044,921.8 1043.7,916.1 1044.3,913.3 C1044.9,910.6 1047.5,910.6 1048.6,908.6 C1049.6,906.6 1050.8,903.3 1050.5,901.4 C1050.2,899.6 1048,898.2 1046.7,897.6 C1045.3,897.1 1043.1,898 1042.4,898.1" stroke-width="3.5" fill="none" />
<path d="M1053.3,936.2 C1054.1,936.5 1056.1,938.1 1058.1,938.1 C1060.1,938.1 1063.2,937.3 1065.2,936.2 C1067.3,935.1 1069.6,932.2 1070.5,931.4" stroke-width="3" fill="none" />
<path d="M923.8,936.9 C927.6,933.1 934.7,927.7 941.7,925 C948.6,922.3 958.5,920.4 965.5,920.8 C972.4,921.2 977.8,923.3 983.3,927.4 C988.9,931.4 995.2,937.9 998.8,945.2 C1002.4,952.6 1004,963.1 1004.8,971.4 C1005.6,979.8 1005.6,988.5 1003.6,995.2 C1001.6,1002 998.2,1007.3 992.9,1011.9 C987.5,1016.5 978,1020.6 971.4,1022.6 C964.9,1024.6 959.5,1025.4 953.6,1023.8 C947.6,1022.2 941.1,1017.9 935.7,1013.1 C930.4,1008.3 924.6,1003.2 921.4,995.2 C918.3,987.3 917.1,973.4 916.7,965.5 C916.3,957.5 917.9,952.4 919,947.6 C920.2,942.9 920,940.7 923.8,936.9 Z" stroke-width="5.5" fill="#fff" />
<ellipse cx="955" cy="979" rx="21" ry="34" transform="rotate(-4 955 979)" stroke-width="3" fill="none" />
<path d="M958.3,929.2 C960.5,930.9 967.5,934.2 971.4,939.3 C975.4,944.3 979.8,952.2 982.1,959.5 C984.5,966.9 985.7,975.8 985.7,983.3 C985.7,990.9 983.7,999.6 982.1,1004.8 C980.6,1009.9 977.2,1012.7 976.2,1014.3" stroke-width="2.5" fill="none" />
<path d="M940.5,932.7 L950,935.1 L966.7,950" stroke-width="2.5" fill="none" />
<path d="M940.5,935.1 L940.5,932.1 L957.1,929.8" stroke-width="2" fill="none" />
<path d="M945.8,961.9 L954.8,954.2 L958.3,958.9 L948.8,966.1 Z" stroke-width="2.5" fill="none" />
<path d="M940.5,983.3 L945.8,982.1 L949.4,997.6 L944.6,998.8 Z" stroke-width="2.5" fill="none" />
<path d="M961.3,998.8 L967.3,985.1 L971.4,990.5 L966.1,1003 Z" stroke-width="2.5" fill="none" />
<ellipse cx="864" cy="1014" rx="11" ry="21" transform="rotate(-10 864 1014)" stroke-width="2.2" fill="none" />
<ellipse cx="871" cy="1010.5" rx="11" ry="21" transform="rotate(-10 871 1010.5)" stroke-width="2.8" fill="none" />
<ellipse cx="878" cy="1007" rx="11" ry="21" transform="rotate(-10 878 1007)" stroke-width="2.8" fill="none" />
<ellipse cx="885" cy="1003.5" rx="11" ry="21" transform="rotate(-10 885 1003.5)" stroke-width="2.2" fill="none" />
<path d="M848,1004 C844,1011 845,1024 851,1032" stroke-width="1.5" fill="none" />
<path d="M489,866 C489,861 498,858 507,858 C513,858 515,862 513,866 C510,871 501,873 494,872 C490,871 489,869 489,866 Z" stroke-width="3" fill="#fff" />
<path d="M492,865 C496,861 505,860 511,862" stroke-width="2.5" fill="none" />
<line x1="492.5" y1="878" x2="492.5" y2="1208" stroke-width="2.2" stroke-dasharray="26 8" stroke-linecap="butt"/>
<line x1="510.5" y1="878" x2="510.5" y2="1154" stroke-width="2.2" stroke-dasharray="26 8" stroke-linecap="butt"/>
<path d="M442.5,1270 L552.5,1207 L537.5,1181 L427.5,1244 Z" stroke-width="3" fill="#fff" />
<path d="M460,1252 L470,1246" stroke-width="1.5" fill="none" />
<path d="M490,1230 L496,1226" stroke-width="1.5" fill="none" />
<ellipse cx="435" cy="1257.5" rx="12" ry="17" transform="rotate(-30 435 1257.5)" stroke-width="3.5" fill="#fff" />
<ellipse cx="435" cy="1258" rx="5.5" ry="7" transform="rotate(-30 435 1258)" stroke-width="2" fill="#000" />
<path d="M532.7,1227.7 L584.7,1198.7 L559.3,1153.3 L507.3,1182.3 Z" stroke-width="2.5" fill="url(#stC)" />
<ellipse cx="523" cy="1203" rx="13" ry="22" transform="rotate(-30 523 1203)" stroke-width="5" fill="#fff" />
<ellipse cx="537" cy="1150" rx="4" ry="5" transform="rotate(0 537 1150)" stroke-width="2" fill="#fff" />
<ellipse cx="546" cy="1147" rx="4" ry="5" transform="rotate(0 546 1147)" stroke-width="2" fill="#fff" />
<ellipse cx="528" cy="1160" rx="4" ry="5" transform="rotate(0 528 1160)" stroke-width="2" fill="#fff" />
<ellipse cx="555" cy="1146" rx="4" ry="5" transform="rotate(0 555 1146)" stroke-width="2" fill="#fff" />
<ellipse cx="525" cy="1170" rx="4" ry="5" transform="rotate(0 525 1170)" stroke-width="2" fill="#fff" />
<path d="M706.5,1115.3 L751.5,1089.3 L738.5,1066.7 L693.5,1092.7 Z" stroke-width="3" fill="#fff" />
<path d="M746.3,1089 L813.3,1057 L804.7,1039 L737.7,1071 Z" stroke-width="3" fill="url(#stC)" />
<ellipse cx="742" cy="1079" rx="7" ry="13" transform="rotate(-30 742 1079)" stroke-width="2.5" fill="#fff" />
<ellipse cx="808" cy="1049" rx="7" ry="10" transform="rotate(-30 808 1049)" stroke-width="3" fill="#fff" />
<path d="M541.9,1139.1 L667.2,1064.1 L671.8,1062 L677.2,1061.3 L683.1,1062 L689.5,1064.2 L696,1067.7 L702.5,1072.3 L708.8,1078.1 L714.7,1084.8 L720,1092.2 L724.6,1100.1 L728.3,1108.2 L731,1116.3 L732.7,1124.1 L733.2,1131.5 L732.6,1138.2 L730.8,1143.9 L728,1148.5 L724.2,1151.9 L598.9,1226.9 L594.3,1229 L588.9,1229.7 L583,1229 L576.6,1226.8 L570.1,1223.3 L563.6,1218.7 L557.3,1212.9 L551.4,1206.2 L546.1,1198.8 L541.5,1190.9 L537.8,1182.8 L535.1,1174.7 L533.4,1166.9 L532.9,1159.5 L533.5,1152.8 L535.3,1147.1 L538.1,1142.5 L541.9,1139.1 Z" stroke-width="3.2" fill="#fff" />
<path d="M603,1183.2 L605.7,1191.3 L607.4,1199.1 L607.9,1206.5 L607.3,1213.2 L605.5,1218.9 L602.7,1223.5 L598.9,1226.9 L724.2,1151.9 L728,1148.5 L730.8,1143.9 L732.6,1138.2 L733.2,1131.5 L732.7,1124.1 L731,1116.3 L728.3,1108.2 Z" stroke-width="0" fill="url(#stC)" stroke="none"/>
<path d="M543.2,1138.3 L683.8,1062.2" stroke-width="2.2" fill="none" />
<path d="M549.7,1136.4 L692.1,1065.4" stroke-width="2.2" fill="none" />
<path d="M557.2,1136.9 L700.6,1070.8" stroke-width="2.2" fill="none" />
<path d="M565.5,1139.8 L708.8,1078.1" stroke-width="2.2" fill="none" />
<path d="M574,1144.9 L716.4,1087" stroke-width="2.2" fill="none" />
<path d="M582.3,1151.9 L722.9,1096.9" stroke-width="2.2" fill="none" />
<path d="M590,1160.5 L728,1107.4" stroke-width="2.2" fill="none" />
<path d="M596.7,1170.3 L731.4,1117.9" stroke-width="2.2" fill="none" />
<path d="M602,1180.7 L733.1,1127.9" stroke-width="2.2" fill="none" />
<path d="M605.7,1191.3 L732.8,1136.9" stroke-width="2.2" fill="none" />
<path d="M607.7,1201.4 L730.6,1144.4" stroke-width="2.2" fill="none" />
<path d="M607.7,1210.6 L726.6,1150.1" stroke-width="2.2" fill="none" />
<path d="M678.2,1064 L683.7,1064.8 L689.6,1066.8 L695.8,1070.1 L701.9,1074.5 L707.8,1080 L713.3,1086.3 L718.3,1093.3 L722.7,1100.7 L726.2,1108.4 L728.8,1116 L730.3,1123.4 L730.9,1130.3 L730.3,1136.5 L728.7,1141.9" stroke-width="2" fill="none" />
<ellipse cx="570.4" cy="1183" rx="52.4" ry="29" transform="rotate(57 570.4 1183)" stroke-width="3" fill="#fff" />
<ellipse cx="575.4" cy="1180" rx="50.4" ry="27.5" transform="rotate(57 575.4 1180)" stroke-width="2" fill="none" />
<ellipse cx="567.4" cy="1185" rx="44.4" ry="24" transform="rotate(57 567.4 1185)" stroke-width="2" fill="url(#stA)" />
<ellipse cx="562.4" cy="1188" rx="28.4" ry="15" transform="rotate(57 562.4 1188)" stroke-width="2.5" fill="#fff" />
<ellipse cx="548" cy="1160" rx="3.5" ry="4.5" transform="rotate(0 548 1160)" stroke-width="1.8" fill="#fff" />
<ellipse cx="560" cy="1153" rx="3.5" ry="4.5" transform="rotate(0 560 1153)" stroke-width="1.8" fill="#fff" />
<ellipse cx="574" cy="1150" rx="3.5" ry="4.5" transform="rotate(0 574 1150)" stroke-width="1.8" fill="#fff" />
<ellipse cx="541" cy="1172" rx="3.5" ry="4.5" transform="rotate(0 541 1172)" stroke-width="1.8" fill="#fff" />
<ellipse cx="586" cy="1160" rx="3.5" ry="4.5" transform="rotate(0 586 1160)" stroke-width="1.8" fill="#fff" />
<line x1="815" y1="1046" x2="822" y2="1042" stroke-width="2" />
<line x1="418" y1="1266" x2="428" y2="1261" stroke-width="2" />
<path d="M1630,1582.5 L1853.6,1451.4 L2016,1541.4 L2032,1566 L2039,1591 L2043,1616 L2050,1641 L2057,1670 L2057,1695 L2053.6,1720 L2050,1749 L2032,1784 L1792.9,1891.4 L1735.7,1862.9 L1600,1780 L1585,1700 L1590,1640 Z" stroke-width="0" fill="#fff" stroke="none"/>
<path d="M1793.7,1686.1 C1797.7,1694.1 1805.7,1696.1 1815.7,1694.1 L2028.5,1553 C2036.5,1551 2039.5,1559 2038.5,1567 C2037.5,1573 2034.5,1575 2030.5,1577" stroke-width="4.5" fill="none" />
<path d="M1819.7,1702.1 L2026.5,1579" stroke-width="1.8" fill="none" />
<path d="M1795.5,1697.7 C1799.5,1705.7 1807.5,1707.7 1817.5,1705.7 L2031.1,1564.4 C2039.1,1562.4 2042.1,1570.4 2041.1,1578.4 C2040.1,1584.4 2037.1,1586.4 2033.1,1588.4" stroke-width="4.5" fill="none" />
<path d="M1821.5,1713.7 L2029.1,1590.4" stroke-width="1.8" fill="none" />
<path d="M1797.3,1717.4 C1801.3,1725.4 1809.3,1727.4 1819.3,1725.4 L2035.6,1582.4 C2043.6,1580.4 2046.6,1588.4 2045.6,1596.4 C2044.6,1602.4 2041.6,1604.4 2037.6,1606.4" stroke-width="4.5" fill="none" />
<path d="M1823.3,1733.4 L2033.6,1608.4" stroke-width="1.8" fill="none" />
<path d="M1800.9,1738.8 C1804.9,1746.8 1812.9,1748.8 1822.9,1746.8 L2042.2,1602.2 C2050.2,1600.2 2053.2,1608.2 2052.2,1616.2 C2051.2,1622.2 2048.2,1624.2 2044.2,1626.2" stroke-width="4.5" fill="none" />
<path d="M1826.9,1754.8 L2040.2,1628.2" stroke-width="1.8" fill="none" />
<path d="M1809.8,1760.2 C1813.8,1768.2 1821.8,1770.2 1831.8,1768.2 L2049.9,1624.2 C2057.9,1622.2 2060.9,1630.2 2059.9,1638.2 C2058.9,1644.2 2055.9,1646.2 2051.9,1648.2" stroke-width="4.5" fill="none" />
<path d="M1835.8,1776.2 L2047.9,1650.2" stroke-width="1.8" fill="none" />
<path d="M1808,1785.2 C1812,1793.2 1820,1795.2 1830,1793.2 L2052.6,1646.7 C2060.6,1644.7 2063.6,1652.7 2062.6,1660.7 C2061.6,1666.7 2058.6,1668.7 2054.6,1670.7" stroke-width="4.5" fill="none" />
<path d="M1834,1801.2 L2050.6,1672.7" stroke-width="1.8" fill="none" />
<path d="M1811.6,1815.6 C1815.6,1823.6 1823.6,1825.6 1833.6,1823.6 L2051.7,1679.6 C2059.7,1677.6 2062.7,1685.6 2061.7,1693.6 C2060.7,1699.6 2057.7,1701.6 2053.7,1703.6" stroke-width="4.5" fill="none" />
<path d="M1837.6,1831.6 L2049.7,1705.6" stroke-width="1.8" fill="none" />
<path d="M1809.8,1833.4 C1813.8,1841.4 1821.8,1843.4 1831.8,1841.4 L2048.6,1698.5 C2056.6,1696.5 2059.6,1704.5 2058.6,1712.5 C2057.6,1718.5 2054.6,1720.5 2050.6,1722.5" stroke-width="4.5" fill="none" />
<path d="M1835.8,1849.4 L2046.6,1724.5" stroke-width="1.8" fill="none" />
<path d="M1802.6,1847.7 C1806.6,1855.7 1814.6,1857.7 1824.6,1855.7 L2046.3,1709.6 C2054.3,1707.6 2057.3,1715.6 2056.3,1723.6 C2055.3,1729.6 2052.3,1731.6 2048.3,1733.6" stroke-width="4.5" fill="none" />
<path d="M1828.6,1863.7 L2044.3,1735.6" stroke-width="1.8" fill="none" />
<path d="M1793.7,1858.4 C1797.7,1866.4 1805.7,1868.4 1815.7,1866.4 L2032.9,1723 C2040.9,1721 2043.9,1729 2042.9,1737 C2041.9,1743 2038.9,1745 2034.9,1747" stroke-width="4.5" fill="none" />
<path d="M1819.7,1874.4 L2030.9,1749" stroke-width="1.8" fill="none" />
<path d="M1833.6,1773.6 L1815.7,1780.7 L1814.8,1805.7 L1822.9,1814.6 L1833.6,1812.9 L1833.6,1821.8" stroke-width="3.5" fill="none" />
<path d="M1735.7,1862.9 L1792.9,1891.4 L2032,1760" stroke-width="3.5" fill="none" />
<path d="M1745,1866 L1763,1876" stroke-width="3" fill="none" />
<path d="M1757,1872 L1775,1882" stroke-width="3" fill="none" />
<path d="M1769,1878 L1787,1888" stroke-width="3" fill="none" />
<path d="M1781,1884 L1799,1894" stroke-width="3" fill="none" />
<path d="M1630,1582.5 L1853.6,1451.4 L1858,1452 L2016,1541.4 L2010.7,1548.6 L1792.9,1671.8 L1640,1586 Z" stroke-width="5" fill="#fff" />
<path d="M1709,1616.4 L1870,1521.8 L1965,1466" stroke-width="2.5" fill="none" />
<path d="M1739.6,1571 L1813.8,1532.5 L1855.7,1553 L1788.8,1593 Z" stroke-width="3" fill="none" />
<path d="M1711,1618 L1788,1664.6" stroke-width="1.5" fill="none" />
<path d="M1590,1655 C1596,1649 1602,1653 1604,1663" stroke-width="3.5" fill="none" />
<path d="M1599,1645 C1605,1639 1611,1643 1613,1653" stroke-width="3.5" fill="none" />
<path d="M1608,1635 C1614,1629 1620,1633 1622,1643" stroke-width="3.5" fill="none" />
<path d="M1617,1625 C1623,1619 1629,1623 1631,1633" stroke-width="3.5" fill="none" />
<path d="M1626,1615 C1632,1609 1638,1613 1640,1623" stroke-width="3.5" fill="none" />
<path d="M1635,1605 C1641,1599 1647,1603 1649,1613" stroke-width="3.5" fill="none" />
<path d="M1644,1595 C1650,1589 1656,1593 1658,1603" stroke-width="3.5" fill="none" />
<path d="M1586,1650 L1590,1625 L1605,1600 L1627,1582" stroke-width="3" fill="none" />
<ellipse cx="1703" cy="1738" rx="131" ry="88" transform="rotate(58.7 1703 1738)" stroke-width="4" fill="#fff" />
<ellipse cx="1681.5" cy="1749" rx="123.5" ry="80" transform="rotate(58.7 1681.5 1749)" stroke-width="5.5" fill="#fff" />
<path d="M1620,1689.3 C1623.6,1688.1 1633.4,1681.7 1641.4,1682 C1649.4,1682.3 1659.3,1686.2 1668.2,1691 C1677.1,1695.8 1687.5,1703.2 1695,1710.7 C1702.5,1718.2 1707.8,1727.4 1712.9,1735.7 C1718,1744 1722.7,1752.1 1725.4,1760.7 C1728.1,1769.3 1729.3,1778.6 1729,1787.5 C1728.7,1796.4 1726.6,1806.5 1723.6,1814.3 C1720.6,1822 1713.1,1830.7 1711,1834" stroke-width="4.5" fill="none" />
<path d="M1641.4,1684 C1640.8,1687.8 1637.3,1697.2 1637.9,1707 C1638.5,1716.8 1640.8,1731.1 1645,1743 C1649.2,1754.9 1656.1,1768.8 1662.9,1778.6 C1669.7,1788.4 1676.2,1795 1686,1801.8 C1695.8,1808.6 1715.8,1816.6 1721.8,1819.6" stroke-width="2" fill="none" />
<path d="M1670,1696.4 C1670.6,1701.2 1670.9,1715.8 1673.6,1725 C1676.3,1734.2 1680.9,1744.4 1686,1751.8 C1691.1,1759.2 1697.7,1764.6 1704,1769.6 C1710.3,1774.6 1720.3,1779.9 1723.6,1782" stroke-width="2" fill="none" />
<path d="M1630,1636 L1660,1622 L1690,1622 L1685,1633" stroke-width="3" fill="none" />
<path d="M1680,1637 L1697,1629 L1712,1632" stroke-width="3" fill="none" />
<path d="M1919,1477 C1945,1462 1962,1450 1966,1430 C1969,1410 1960,1392 1949,1376" stroke-width="3" fill="none" />
<path d="M1949,1492 C1975,1478 1992,1462 1997,1440 C2000,1418 1993,1395 1987,1374" stroke-width="3" fill="none" />
<path d="M1944,1373 L1987,1373" stroke-width="2.5" fill="none" />
<path d="M1940,1346 L1952,1372" stroke-width="3.5" fill="none" />
<path d="M1950,1342 L1958,1372" stroke-width="3.5" fill="none" />
<path d="M1959,1340 L1964,1372" stroke-width="3.5" fill="none" />
<path d="M1972,1340 L1974,1372" stroke-width="3.5" fill="none" />
<line x1="1180" y1="1975" x2="1445" y2="1835" stroke-width="2" stroke-dasharray="16 14" stroke-linecap="butt"/>
<line x1="1230" y1="2055" x2="1445" y2="1945" stroke-width="2" stroke-dasharray="16 14" stroke-linecap="butt"/>
<line x1="1270" y1="1985" x2="1580" y2="1815" stroke-width="2" stroke-dasharray="16 14" stroke-linecap="butt"/>
<g transform="translate(229,1067)">
<path d="M1270.7,664.4 C1284.3,665.5 1303,671.6 1317.9,682.7 C1332.7,693.9 1348.9,712.6 1359.8,731.2 C1370.7,749.7 1379.2,777 1383.3,794.1 C1387.5,811.1 1386.8,822.4 1384.7,833.3 C1382.5,844.3 1377,853 1370.2,859.5 C1363.5,866.1 1351.7,870 1344.1,872.6 C1336.4,875.2 1335.3,878.5 1324.4,875.2 C1313.5,872 1290.6,861.1 1278.6,853 C1266.6,844.9 1260,835.5 1252.4,826.8 C1244.7,818.1 1238.6,811.5 1232.7,800.6 C1226.8,789.7 1220.1,773.3 1217,761.3 C1214,749.3 1214,738.8 1214.4,728.6 C1214.8,718.3 1215.9,708.5 1219.6,699.8 C1223.4,691 1228.2,682.1 1236.7,676.2 C1245.2,670.3 1257.2,663.3 1270.7,664.4 Z" stroke-width="3.5" fill="url(#stE)" />
<path d="M1249.8,677.5 C1258.7,673.8 1278.1,677.5 1291.7,682.7 C1305.2,688 1320,696.9 1331,708.9 C1341.9,720.9 1350.8,739.5 1357.2,754.8 C1363.5,770 1367.2,786.4 1368.9,800.6 C1370.7,814.8 1370,829.6 1367.6,839.9 C1365.2,850.1 1359.6,858.2 1354.5,862.2 C1349.5,866.1 1350.2,868.3 1337.5,863.5 C1324.8,858.7 1290.6,839.9 1278.6,833.3 C1266.6,826.8 1269.2,830.7 1265.5,824.2 C1261.8,817.6 1260.2,806.7 1256.3,794.1 C1252.4,781.4 1245,763.1 1241.9,748.2 C1238.9,733.4 1236.7,716.8 1238,705 C1239.3,693.2 1240.8,681.2 1249.8,677.5 Z" stroke-width="3" fill="#fff" />
<path d="M1270.7,665.7 C1278.1,667.8 1303.1,672.4 1317.9,683.4 C1332.6,694.4 1348.3,713.4 1359.1,731.8 C1369.9,750.3 1378.6,777.1 1382.7,794.1 C1386.8,811 1385.8,822.5 1383.6,833.3 C1381.4,844.1 1376.2,852.5 1369.6,858.9 C1363,865.2 1348.7,869.7 1344.1,871.3 C1339.4,873 1338.4,870.2 1341.4,868.7 C1344.5,867.2 1356.7,867.6 1362.4,862.2 C1368.1,856.7 1373.5,847.3 1375.5,836 C1377.4,824.6 1378.1,810.9 1374.2,794.1 C1370.2,777.2 1361.7,752.6 1351.9,735.1 C1342.1,717.7 1328.3,700 1315.2,689.3 C1302.1,678.6 1280.8,674.9 1273.3,671 C1265.9,667 1263.3,663.6 1270.7,665.7 Z" stroke-width="0" fill="#fff" stroke="none"/>
<path d="M1273.3,671 C1280.3,674 1302.1,678.6 1315.2,689.3 C1328.3,700 1342.1,717.7 1351.9,735.1 C1361.7,752.6 1370.2,777.2 1374.2,794.1 C1378.1,810.9 1377.4,824.6 1375.5,836 C1373.5,847.3 1368.1,856.7 1362.4,862.2 C1356.7,867.6 1344.9,867.6 1341.4,868.7" stroke-width="4" fill="none" />
<path d="M1270.7,665.7 C1278.6,668.7 1303.1,672.4 1317.9,683.4 C1332.6,694.4 1348.3,713.4 1359.1,731.8 C1369.9,750.3 1378.6,777.1 1382.7,794.1 C1386.8,811 1385.8,822.5 1383.6,833.3 C1381.4,844.1 1376.2,852.5 1369.6,858.9 C1363,865.2 1348.3,869.2 1344.1,871.3" stroke-width="1.5" fill="none" />
<path d="M1262.9,830.7 L1278.6,833.3 L1342.7,864.8 L1331,872.6 L1278.6,853 L1258.9,836 Z" stroke-width="3" fill="#fff" />
<path d="M1268.1,839.9 L1331,871.3" stroke-width="2" fill="none" />
<path d="M1270.7,667.7 C1278.4,670.6 1302.1,674.6 1316.6,685.4 C1331,696.2 1346.5,714.4 1357.2,732.5 C1367.8,750.6 1376.6,777.2 1380.7,794.1 C1384.9,810.9 1384,822.6 1382,833.3 C1380.1,844 1375.3,852 1368.9,858.2 C1362.6,864.4 1348.2,868.6 1344.1,870.7" stroke-width="1.5" fill="none" />
<line x1="1302.1" y1="770.5" x2="1319.2" y2="761.3" stroke-width="2" />
<line x1="1329.6" y1="754.8" x2="1344.7" y2="746.9" stroke-width="2" />
<line x1="1358.5" y1="739.1" x2="1372.9" y2="731.2" stroke-width="2" />
<line x1="1224.2" y1="814.4" x2="1235.4" y2="807.2" stroke-width="2" />
</g>
<ellipse cx="1416.5" cy="1901.5" rx="60" ry="36" transform="rotate(59 1416.5 1901.5)" stroke-width="3.5" fill="#fff" />
<ellipse cx="1417" cy="1902" rx="31.5" ry="18.9" transform="rotate(59 1417 1902)" stroke-width="3.5" fill="#fff" />
<circle cx="1391.8" cy="1857.9" r="3.6" fill="#000" stroke="none"/>
<circle cx="1418.1" cy="1861.8" r="3.6" fill="#000" stroke="none"/>
<circle cx="1439.8" cy="1888.1" r="3.6" fill="#000" stroke="none"/>
<circle cx="1452.1" cy="1922.1" r="3.6" fill="#000" stroke="none"/>
<circle cx="1439.8" cy="1945.4" r="3.6" fill="#000" stroke="none"/>
<circle cx="1415" cy="1943.8" r="3.6" fill="#000" stroke="none"/>
<circle cx="1391.8" cy="1914.4" r="3.6" fill="#000" stroke="none"/>
<circle cx="1379.4" cy="1880.4" r="3.6" fill="#000" stroke="none"/>
<ellipse cx="1337.6" cy="1947" rx="57" ry="27" transform="rotate(59.6 1337.6 1947)" stroke-width="3" fill="#fff" />
<ellipse cx="1337.5" cy="1946" rx="42" ry="19.5" transform="rotate(53 1337.5 1946)" stroke-width="4" fill="none" />
<rect x="1304.8" y="1898" width="10" height="8" rx="3" fill="#000" stroke="none" transform="rotate(60 1309.8 1902)"/>
<rect x="1363.6" y="1924.3" width="10" height="8" rx="3" fill="#000" stroke="none" transform="rotate(60 1368.6 1928.3)"/>
<rect x="1301.7" y="1958.4" width="10" height="8" rx="3" fill="#000" stroke="none" transform="rotate(60 1306.7 1962.4)"/>
<rect x="1357.4" y="1989.3" width="10" height="8" rx="3" fill="#000" stroke="none" transform="rotate(60 1362.4 1993.3)"/>
<path d="M1234,1964.8 L1260,1949.8 L1261.5,1949.1 L1263.2,1948.5 L1265,1948.2 L1266.8,1948.2 L1268.8,1948.3 L1270.8,1948.7 L1272.8,1949.3 L1274.9,1950.1 L1276.9,1951.2 L1279,1952.4 L1281.1,1953.9 L1283.1,1955.5 L1285,1957.3 L1287,1959.3 L1288.8,1961.4 L1290.5,1963.7 L1292.1,1966 L1293.6,1968.5 L1295,1971 L1296.2,1973.6 L1297.3,1976.2 L1298.2,1978.9 L1299,1981.5 L1299.6,1984.1 L1300,1986.7 L1300.2,1989.2 L1300.3,1991.6 L1300.1,1993.9 L1299.8,1996.1 L1299.3,1998.2 L1298.7,2000.1 L1297.9,2001.9 L1296.9,2003.4 L1295.7,2004.8 L1294.4,2006 L1293,2007 L1267,2022 Z" stroke-width="3.5" fill="#fff" />
<ellipse cx="1250.5" cy="1993.4" rx="33" ry="19.8" transform="rotate(60 1250.5 1993.4)" stroke-width="3.5" fill="#fff" />
<path d="M1283.1,1955.5 L1285.7,1958 L1288.2,1960.7 L1290.5,1963.7 L1292.6,1966.9 L1294.6,1970.2 L1296.2,1973.6 L1297.6,1977.1 L1298.8,1980.6 L1299.6,1984.1 L1300.1,1987.5 L1300.3,1990.8 L1300.1,1993.9 L1299.7,1996.8 L1298.9,1999.5 L1297.9,2001.9 L1296.5,2003.9 L1294.9,2005.6 L1293,2007 L1280,2014.5 L1281.9,2013.1 L1283.5,2011.4 L1284.9,2009.4 L1285.9,2007 L1286.7,2004.3 L1287.1,2001.4 L1287.3,1998.3 L1287.1,1995 L1286.6,1991.6 L1285.8,1988.1 L1284.6,1984.6 L1283.2,1981.1 L1281.6,1977.7 L1279.6,1974.4 L1277.5,1971.2 L1275.2,1968.2 L1272.7,1965.5 L1270.1,1963 Z" stroke-width="0" fill="url(#stA)" stroke="none"/>
<ellipse cx="1250.5" cy="1993.4" rx="29" ry="17.4" transform="rotate(60 1250.5 1993.4)" stroke-width="1.5" fill="none" />
<ellipse cx="1249" cy="1996" rx="17" ry="10.2" transform="rotate(60 1249 1996)" stroke-width="2" fill="#fff" />
<polygon points="1256,2008.1 1245.8,2006 1238.8,1993.8 1242,1983.9 1252.2,1986 1259.2,1998.2" fill="#000" stroke="#000" stroke-width="2"/>
<ellipse cx="1250" cy="1995" rx="5" ry="8" transform="rotate(-30 1250 1995)" stroke-width="0" fill="#fff" stroke="none"/>
<path d="M1177.4,2070.1 L1198,2067.3 L1225.4,2063.2 L1237.7,2071.4 L1233.6,2081 L1239.1,2087.9 L1235,2096.1 L1239.1,2102.9 L1235,2111.1 L1239.1,2118 L1235,2126.2 L1239.1,2133 L1233.6,2141.3 L1215.8,2153.6 L1195.2,2157.7 L1177.4,2150.8 L1173.3,2118 Z" stroke-width="2" fill="#000" />
<path d="M1187,2086.5 L1202.1,2082.4 L1218.5,2079.6" stroke-width="2.5" fill="none" stroke="#fff"/>
<path d="M1187,2096.8 L1202.1,2092.7 L1218.5,2089.9" stroke-width="2.5" fill="none" stroke="#fff"/>
<path d="M1187,2107 L1202.1,2102.9 L1218.5,2100.2" stroke-width="2.5" fill="none" stroke="#fff"/>
<path d="M1187,2117.3 L1202.1,2113.2 L1218.5,2110.5" stroke-width="2.5" fill="none" stroke="#fff"/>
<path d="M1187,2127.6 L1202.1,2123.5 L1218.5,2120.7" stroke-width="2.5" fill="none" stroke="#fff"/>
<path d="M1187,2137.8 L1202.1,2133.7 L1218.5,2131" stroke-width="2.5" fill="none" stroke="#fff"/>
<path d="M1187,2148.1 L1202.1,2144 L1218.5,2141.3" stroke-width="2.5" fill="none" stroke="#fff"/>
<path d="M1135,2011.2 L1181.6,1985.2 L1185.7,1989.3 L1225.4,2022.1 L1228.1,2063.2 L1198,2071.4 L1177.4,2071.4 L1170.6,2035.8 Z" stroke-width="3.5" fill="#fff" />
<path d="M1150.1,2011.2 L1174.7,1997.5 L1192.5,2016.7 L1184.3,2035.8 L1188.4,2074.2 L1177.4,2074.2 L1170.6,2035.8 Z" stroke-width="2" fill="url(#stA)" />
<path d="M1181.6,1994.8 L1218.5,2024.9 L1219.9,2063.2" stroke-width="3" fill="none" />
<path d="M1189.8,2027.6 L1204.8,2022.1 L1217.2,2030.4 L1217.2,2044.1 L1202.1,2048.2 Z" stroke-width="3" fill="#fff" />
<ellipse cx="1211" cy="2033.1" rx="4.5" ry="6" transform="rotate(-20 1211 2033.1)" stroke-width="2.5" fill="none" />
<ellipse cx="1209.6" cy="2060.5" rx="3" ry="4" transform="rotate(-20 1209.6 2060.5)" stroke-width="2" fill="none" />
<path d="M1198,2035.8 L1200.7,2063.2" stroke-width="4" fill="none" />
<path d="M1084.3,1985.2 C1079.3,1987.2 1062,1992.3 1054.2,1997.5 C1046.5,2002.8 1041.7,2009.1 1037.8,2016.7 C1033.9,2024.2 1031.9,2032.6 1031,2042.7 C1030,2052.7 1030.7,2065.5 1032.3,2076.9 C1033.9,2088.3 1033.5,2098.6 1040.5,2111.1 C1047.6,2123.7 1059.9,2142.9 1074.8,2152.2 C1089.6,2161.6 1113.6,2166.8 1129.5,2167.3 C1145.5,2167.7 1162.2,2160.4 1170.6,2155 C1179,2149.5 1178.8,2145.1 1180.2,2134.4 C1181.6,2123.7 1180.4,2104.7 1178.8,2090.6 C1177.2,2076.5 1174.3,2059.6 1170.6,2049.5 C1167,2039.5 1161.9,2035.8 1156.9,2030.4 C1151.9,2024.9 1143.2,2019 1140.5,2016.7 L1137.7,2008.5 L1115.8,1992 L1084.3,1985.2" stroke-width="4" fill="#fff" />
<path d="M1136.4,1955.1 C1139.8,1956.7 1150.8,1961.4 1156.9,1964.6 C1163.1,1967.8 1168.8,1971 1173.3,1974.2 C1177.9,1977.4 1182.5,1982.2 1184.3,1983.8 L1137.7,2007.1 L1115.8,1992 L1085.7,1985.9 L1124.1,1961.9 Z" stroke-width="3.5" fill="#fff" />
<path d="M1137.7,2007.1 L1184.3,1983.8 L1185.7,1989.3 L1140.5,2016.7 Z" stroke-width="3.5" fill="#fff" />
<path d="M1072,1959.2 L1093.9,1946.8 L1124.1,1956.4 L1124.1,1963.3 L1084.3,1985.2 L1072,1986.5 Z" stroke-width="4" fill="#fff" />
<path d="M1072,1959.2 L1072,1986.5" stroke-width="5" fill="none" />
<path d="M1093.9,1946.8 L1093.9,1953.7 L1124.1,1963.3" stroke-width="2.5" fill="none" />
<path d="M1078.9,1963.3 L1115.8,1961.9 L1084.3,1981.1 Z" stroke-width="3" fill="#000" />
<ellipse cx="1084.3" cy="1964.6" rx="4" ry="5" transform="rotate(0 1084.3 1964.6)" stroke-width="2" fill="#fff" />
<path d="M1096.7,1964.6 L1102.1,1967.4 L1098,1971.5 Z" stroke-width="1" fill="#fff" />
<path d="M1076.1,1986.5 L1076.1,2005.7 L1033.7,2055 L1040.5,2111.1" stroke-width="3" fill="none" />
<ellipse cx="1133" cy="1964" rx="5.5" ry="17" transform="rotate(0 1133 1964)" stroke-width="3.5" fill="#fff" />
<path d="M1130.2,1955.1 L1135.7,1955.1" stroke-width="3" fill="none" />
<path d="M1140.5,2022.1 C1142.8,2025.8 1150.3,2036.1 1154.2,2044.1 C1158.1,2052 1161.7,2061.2 1163.8,2070.1 C1165.8,2079 1167.2,2087.2 1166.5,2097.4 C1165.8,2107.7 1163.5,2122.3 1159.6,2131.7 C1155.8,2141 1149.2,2148.6 1143.2,2153.6 C1137.3,2158.6 1127.2,2160.4 1124.1,2161.8" stroke-width="2.5" fill="none" />
<path d="M1135,2011.2 L1136.4,2027.6" stroke-width="3.5" fill="none" />
<ellipse cx="1103.5" cy="2081.5" rx="73.5" ry="51" transform="rotate(45.6 1103.5 2081.5)" stroke-width="3" fill="none" />
<ellipse cx="1101" cy="2083" rx="66" ry="45" transform="rotate(45.6 1101 2083)" stroke-width="5" fill="none" />
<ellipse cx="1099" cy="2084" rx="58" ry="39" transform="rotate(45.6 1099 2084)" stroke-width="2" fill="none" />
<path d="M1058.3,2044.1 C1057.4,2047.2 1053.5,2056.6 1052.9,2063.2 C1052.2,2069.8 1053.1,2079.2 1054.2,2083.8 C1055.4,2088.3 1058.8,2089.5 1059.7,2090.6" stroke-width="7" fill="none" />
<path d="M1072,2035.8 C1074.8,2035.6 1083,2033.1 1088.5,2034.5 C1093.9,2035.8 1100.5,2039.7 1104.9,2044.1 C1109.2,2048.4 1112.9,2057.7 1114.5,2060.5" stroke-width="6" fill="none" />
<path d="M1070.7,2111.1 C1072.5,2113 1077.3,2118.9 1081.6,2122.1 C1085.9,2125.3 1091,2128.7 1096.7,2130.3 C1102.4,2131.9 1112.6,2131.4 1115.8,2131.7" stroke-width="7" fill="none" />
<path d="M1124.1,2079.6 C1124.7,2082.6 1127.5,2091.1 1128.2,2097.4 C1128.8,2103.8 1128.6,2113 1128.2,2118 C1127.7,2123 1125.9,2126 1125.4,2127.6" stroke-width="7" fill="none" />
<path d="M1061.1,2100.2 L1070.7,2094.7 L1066.5,2104.3 Z" stroke-width="2" fill="#000" />
<ellipse cx="1116.5" cy="2069.4" rx="2.5" ry="3.5" transform="rotate(0 1116.5 2069.4)" stroke-width="2" fill="none" />
<ellipse cx="1090" cy="2084" rx="28.7" ry="17.5" transform="rotate(62.3 1090 2084)" stroke-width="4" fill="#fff" />
<ellipse cx="1090" cy="2084" rx="25" ry="15" transform="rotate(62.3 1090 2084)" stroke-width="1.8" fill="none" />
<path d="M1077.5,2063.2 L1080.2,2085.1 L1096.7,2082.4 L1096.7,2066 L1085.7,2059.1 Z" stroke-width="0" fill="url(#stA)" stroke="none"/>
<path d="M1083,2086.5 L1099.4,2076.9 L1107.6,2098.8" stroke-width="2.5" fill="none" />
<path d="M1099.4,2076.9 L1096.7,2063.2" stroke-width="2.5" fill="none" />
<path d="M931.9,1794.5 L1114.9,1693.5 L1111.1,1686.5 L928.1,1787.5 Z" stroke-width="2.5" fill="url(#stC)" />
<path d="M931.5,1793.8 L1114.5,1692.8" stroke-width="3.5" fill="none" />
<ellipse cx="930" cy="1791" rx="4" ry="4" transform="rotate(0 930 1791)" stroke-width="2" fill="#000" />
<ellipse cx="1113" cy="1690" rx="4" ry="4" transform="rotate(0 1113 1690)" stroke-width="2.5" fill="#fff" />
<path d="M1483,2135.5 L1664,2030.5 L1660,2023.5 L1479,2128.5 Z" stroke-width="2.5" fill="url(#stC)" />
<path d="M1482.6,2134.8 L1663.6,2029.8" stroke-width="3.5" fill="none" />
<ellipse cx="1481" cy="2132" rx="4" ry="4" transform="rotate(0 1481 2132)" stroke-width="2" fill="#fff" />
<ellipse cx="1662" cy="2027" rx="4" ry="4" transform="rotate(0 1662 2027)" stroke-width="2.5" fill="#fff" />
<path d="M1108.7,1759.1 C1109.2,1753.7 1108.5,1748.9 1112.8,1744.4 C1117.2,1740 1129.4,1735.1 1134.8,1732.2 C1140.3,1729.4 1142.6,1727.6 1145.4,1727.3 C1148.3,1727.1 1150,1729.1 1151.9,1730.6 C1153.8,1732.1 1156,1730.7 1156.8,1736.3 C1157.6,1741.9 1157.4,1758.6 1156.8,1764 C1156.3,1769.4 1154.7,1765.1 1153.6,1768.9 C1152.5,1772.7 1150.9,1780.6 1150.3,1786.8 C1149.8,1793.1 1151.5,1802 1150.3,1806.4 C1149.1,1810.7 1147.3,1811.8 1143,1812.9 C1138.6,1814 1128.4,1814 1124.2,1812.9 C1120,1811.8 1118.8,1810.5 1117.7,1806.4 C1116.6,1802.3 1118.9,1793.3 1117.7,1788.5 C1116.5,1783.6 1111.9,1781.9 1110.4,1777 C1108.9,1772.2 1108.3,1764.6 1108.7,1759.1 Z" stroke-width="4" fill="#fff" />
<path d="M1116.9,1756.7 C1117.2,1752.6 1115.9,1754.2 1121,1751 C1126,1747.7 1141.8,1738.7 1147,1737.1 C1152.3,1735.5 1151.8,1737.3 1152.8,1741.2 C1153.7,1745.1 1153.7,1756.7 1152.8,1760.7 C1151.8,1764.8 1149.4,1762.9 1147,1765.6 C1144.7,1768.4 1142.3,1775.1 1138.9,1777 C1135.5,1779 1129.9,1777.3 1126.7,1777 C1123.4,1776.8 1121,1778.8 1119.3,1775.4 C1117.7,1772 1116.6,1760.7 1116.9,1756.7 Z" stroke-width="3.5" fill="none" />
<path d="M1125.9,1760.7 C1128.6,1757.5 1138.8,1752.1 1142.2,1751 C1145.6,1749.9 1145.4,1751.9 1146.2,1754.2 C1147,1756.5 1148,1761.7 1147,1764.8 C1146.1,1767.9 1143.5,1771.1 1140.5,1773 C1137.5,1774.9 1131.6,1776.6 1129.1,1776.2 C1126.7,1775.8 1126.4,1773.1 1125.9,1770.5 C1125.3,1767.9 1123.1,1764 1125.9,1760.7 Z" stroke-width="2" fill="#000" />
<ellipse cx="1134.4" cy="1764" rx="3.5" ry="4.5" transform="rotate(20 1134.4 1764)" stroke-width="0" fill="#fff" stroke="none"/>
<path d="M1138.9,1790.1 L1147,1790.1 L1150.3,1806.4 L1143,1812.9 L1135.6,1809.6 L1138.9,1801.5 Z" stroke-width="1" fill="#000" />
<path d="M1118.5,1777 C1119.9,1778.8 1123.3,1785.6 1126.7,1787.6 C1130.1,1789.7 1135.1,1790 1138.9,1789.3 C1142.7,1788.6 1147.7,1784.5 1149.5,1783.6" stroke-width="3" fill="none" />
<ellipse cx="1133" cy="1876" rx="15.5" ry="9" transform="rotate(0 1133 1876)" stroke-width="3.5" fill="#fff" />
<ellipse cx="1133" cy="1876" rx="7.5" ry="5" transform="rotate(0 1133 1876)" stroke-width="0" fill="#000" stroke="none"/>
<circle cx="1131" cy="1876" r="1.3" fill="#fff"/>
<path d="M1120,1882 L1133,1892 L1146,1882" stroke-width="3" fill="none" />
<line x1="1133.5" y1="1820" x2="1133.5" y2="1866" stroke-width="2.2" stroke-dasharray="16 10" stroke-linecap="butt"/>
<line x1="1133.5" y1="1893" x2="1133.5" y2="1945" stroke-width="2.2" stroke-dasharray="16 10" stroke-linecap="butt"/>
<path d="M913,1800 C906,1806 908,1815 916,1820" stroke-width="2" fill="none" />
<line x1="916" y1="1820" x2="1111" y2="1934" stroke-width="2" stroke-dasharray="16 12" stroke-linecap="butt"/>
<path d="M1111,1934 C1116,1938 1116,1944 1113,1948" stroke-width="2" fill="none" />
<path d="M732.2,2068 L770,2046.1 L771.3,2041.3 L766.5,2039.8 L727.8,2060 Z" stroke-width="1.5" fill="#000" />
<ellipse cx="730" cy="2064" rx="6.2" ry="8.2" transform="rotate(-28.8 730 2064)" stroke-width="1.5" fill="#000" />
<path d="M734.6,2064 L766.3,2045.7" stroke-width="1.2" fill="none" stroke="#fff"/>
<path d="M731.5,2068.9 L733,2065.2" stroke-width="1.6" fill="none" stroke="#fff"/>
<path d="M726.7,2060.1 L730.5,2060.8" stroke-width="1.6" fill="none" stroke="#fff"/>
<path d="M770.1,2100.1 L805.8,2081.1 L807.3,2076.3 L802.6,2074.7 L765.9,2091.9 Z" stroke-width="1.5" fill="#000" />
<ellipse cx="768" cy="2096" rx="6.2" ry="8.2" transform="rotate(-26.6 768 2096)" stroke-width="1.5" fill="#000" />
<path d="M772.6,2096.2 L802.2,2080.6" stroke-width="1.2" fill="none" stroke="#fff"/>
<path d="M769.3,2100.9 L770.9,2097.3" stroke-width="1.6" fill="none" stroke="#fff"/>
<path d="M764.9,2092 L768.7,2092.9" stroke-width="1.6" fill="none" stroke="#fff"/>
<path d="M978.1,2296.1 L1011.9,2277.1 L1013.3,2272.3 L1008.6,2270.7 L973.9,2287.9 Z" stroke-width="1.5" fill="#000" />
<ellipse cx="976" cy="2292" rx="6.2" ry="8.2" transform="rotate(-27.8 976 2292)" stroke-width="1.5" fill="#000" />
<path d="M980.6,2292.1 L1008.3,2276.7" stroke-width="1.2" fill="none" stroke="#fff"/>
<path d="M977.4,2296.9 L978.9,2293.3" stroke-width="1.6" fill="none" stroke="#fff"/>
<path d="M972.8,2288 L976.6,2288.9" stroke-width="1.6" fill="none" stroke="#fff"/>
<path d="M1016.2,2324 L1050,2304.1 L1051.3,2299.3 L1046.5,2297.8 L1011.8,2316 Z" stroke-width="1.5" fill="#000" />
<ellipse cx="1014" cy="2320" rx="6.2" ry="8.2" transform="rotate(-29.1 1014 2320)" stroke-width="1.5" fill="#000" />
<path d="M1018.6,2320 L1046.4,2303.7" stroke-width="1.2" fill="none" stroke="#fff"/>
<path d="M1015.6,2324.9 L1017,2321.2" stroke-width="1.6" fill="none" stroke="#fff"/>
<path d="M1010.7,2316.1 L1014.5,2316.8" stroke-width="1.6" fill="none" stroke="#fff"/>
<line x1="799" y1="2029" x2="858" y2="2058" stroke-width="2" stroke-dasharray="14 10" stroke-linecap="butt"/>
<line x1="866" y1="2062" x2="965" y2="2118" stroke-width="2" stroke-dasharray="14 10" stroke-linecap="butt"/>
<line x1="858" y1="2057" x2="858" y2="2109" stroke-width="2.5" />
<line x1="806" y1="2073" x2="822" y2="2066" stroke-width="2" stroke-dasharray="10 6" stroke-linecap="butt"/>
<line x1="830" y1="2068" x2="965" y2="2152" stroke-width="2" stroke-dasharray="14 10" stroke-linecap="butt"/>
<line x1="1013" y1="2271" x2="1060" y2="2246" stroke-width="2" stroke-dasharray="14 10" stroke-linecap="butt"/>
<line x1="1050" y1="2300" x2="1075" y2="2287" stroke-width="2" stroke-dasharray="10 8" stroke-linecap="butt"/>
<line x1="963" y1="2190" x2="1038" y2="2251" stroke-width="2" stroke-dasharray="14 10" stroke-linecap="butt"/>
<line x1="1039" y1="2250" x2="1040" y2="2262" stroke-width="2" />
<ellipse cx="995.5" cy="2137" rx="81" ry="48.6" transform="rotate(60 995.5 2137)" stroke-width="4" fill="#fff" />
<ellipse cx="993.5" cy="2138.5" rx="37" ry="23.3" transform="rotate(60 993.5 2138.5)" stroke-width="4" fill="none" />
<ellipse cx="968" cy="2093.5" rx="3.5" ry="4.5" transform="rotate(-20 968 2093.5)" stroke-width="2" fill="#000" />
<ellipse cx="993.5" cy="2093.5" rx="3.5" ry="4.5" transform="rotate(-20 993.5 2093.5)" stroke-width="2" fill="#000" />
<ellipse cx="1018.8" cy="2126" rx="3.5" ry="4.5" transform="rotate(-20 1018.8 2126)" stroke-width="2" fill="#000" />
<ellipse cx="965" cy="2154.5" rx="3.5" ry="4.5" transform="rotate(-20 965 2154.5)" stroke-width="2" fill="#000" />
<ellipse cx="993.5" cy="2184" rx="3.5" ry="4.5" transform="rotate(-20 993.5 2184)" stroke-width="2" fill="#000" />
<ellipse cx="1019.6" cy="2182.7" rx="3.5" ry="4.5" transform="rotate(-20 1019.6 2182.7)" stroke-width="2" fill="#000" />
<line x1="981" y1="2150" x2="1003" y2="2137" stroke-width="1.8" />
<line x1="1000" y1="2186" x2="1016" y2="2178" stroke-width="1.8" />
<ellipse cx="900" cy="2190" rx="93" ry="56" transform="rotate(60 900 2190)" stroke-width="3" fill="#fff" />
<ellipse cx="891" cy="2195" rx="93" ry="56" transform="rotate(60 891 2195)" stroke-width="3" fill="#fff" />
<circle cx="962.5" cy="2209" r="1.6" fill="#000" stroke="none"/>
<circle cx="963.9" cy="2217.8" r="1.6" fill="#000" stroke="none"/>
<circle cx="964.5" cy="2226.4" r="1.6" fill="#000" stroke="none"/>
<circle cx="964.3" cy="2234.6" r="1.6" fill="#000" stroke="none"/>
<circle cx="963.4" cy="2242.3" r="1.6" fill="#000" stroke="none"/>
<circle cx="961.8" cy="2249.5" r="1.6" fill="#000" stroke="none"/>
<circle cx="959.5" cy="2256.1" r="1.6" fill="#000" stroke="none"/>
<circle cx="956.4" cy="2261.9" r="1.6" fill="#000" stroke="none"/>
<circle cx="952.7" cy="2267" r="1.6" fill="#000" stroke="none"/>
<circle cx="948.4" cy="2271.3" r="1.6" fill="#000" stroke="none"/>
<circle cx="943.5" cy="2274.8" r="1.6" fill="#000" stroke="none"/>
<circle cx="938.1" cy="2277.3" r="1.6" fill="#000" stroke="none"/>
<circle cx="932.2" cy="2278.9" r="1.6" fill="#000" stroke="none"/>
<circle cx="925.9" cy="2279.6" r="1.6" fill="#000" stroke="none"/>
<circle cx="919.3" cy="2279.3" r="1.6" fill="#000" stroke="none"/>
<circle cx="912.5" cy="2278" r="1.6" fill="#000" stroke="none"/>
<circle cx="905.4" cy="2275.8" r="1.6" fill="#000" stroke="none"/>
<circle cx="898.3" cy="2272.7" r="1.6" fill="#000" stroke="none"/>
<circle cx="891.1" cy="2268.7" r="1.6" fill="#000" stroke="none"/>
<circle cx="884" cy="2263.9" r="1.6" fill="#000" stroke="none"/>
<circle cx="877" cy="2258.3" r="1.6" fill="#000" stroke="none"/>
<circle cx="870.2" cy="2252" r="1.6" fill="#000" stroke="none"/>
<ellipse cx="889" cy="2196.5" rx="63" ry="39.1" transform="rotate(60 889 2196.5)" stroke-width="2.5" fill="none" />
<ellipse cx="887.5" cy="2197" rx="29" ry="20.9" transform="rotate(60 887.5 2197)" stroke-width="3.5" fill="#fff" />
<ellipse cx="887.5" cy="2197" rx="22" ry="15.8" transform="rotate(60 887.5 2197)" stroke-width="2" fill="none" />
<path d="M876,2190 L884,2186 L896,2196 L892,2210 L880,2208" stroke-width="2.5" fill="none" />
<line x1="868" y1="2183" x2="874" y2="2180" stroke-width="1.5" />
<path d="M826,2494.1 L815.7,2480.3 L813.2,2488.2 L811.2,2501.3 L801.8,2486.7 L798.3,2493.6 L794.8,2505.6 L786.6,2490.3 L782.1,2496.2 L777.2,2506.8 L770.1,2491.2 L764.8,2496 L758.5,2505 L752.7,2489.3 L746.7,2492.8 L739,2500.2 L734.7,2484.6 L727.9,2486.9 L719,2492.5 L716.2,2477.2 L708.8,2478.2 L698.9,2482 L697.5,2467.2 L689.7,2466.9 L678.8,2468.8 L679,2454.7 L670.8,2453.2 L659.2,2453.1 L660.9,2440 L652.4,2437.2 L640.2,2435.2 L643.4,2423.3 L634.8,2419.2 L622.1,2415.3 L626.8,2404.7 L618.2,2399.4 L605.3,2393.7 L611.4,2384.6 L602.9,2378.2 L590,2370.8 L597.3,2363.2 L589.1,2355.9 L576.3,2346.8 L584.9,2340.9 L577,2332.7 L564.6,2322.1 L574.2,2318 L566.7,2309.1 L554.8,2297 L565.4,2294.9 L558.5,2285.2 L547.3,2272 L558.6,2271.8 L552.5,2261.6 L542.1,2247.4 L554,2249.1 L548.7,2238.6 L539.3,2223.6 L551.6,2227.1 L547.1,2216.4 L538.9,2200.9 L551.5,2206.2 L547.9,2195.5 L540.9,2179.5 L553.6,2186.6 L551,2176 L545.4,2160 L557.9,2168.7 L556.3,2158.4 L552.2,2142.5 L564.4,2152.7 L563.9,2142.8 L561.2,2127.2 L573,2138.8 L573.4,2129.5 L572.3,2114.5 L583.4,2127.3 L585,2118.6 L585.4,2104.5 L595.7,2118.3 L598.2,2110.4 L600.2,2097.3 L609.6,2111.9 L613.1,2105 L616.6,2093 L624.8,2108.3 L629.3,2102.4 L634.2,2091.8 L641.3,2107.4 L646.6,2102.6 L652.9,2093.6 L658.7,2109.3 L664.7,2105.8 L672.4,2098.4 L676.7,2114 L683.5,2111.7 L692.4,2106.1 L695.2,2121.4 L702.6,2120.4 L712.5,2116.6 L713.9,2131.4 L721.7,2131.7 L732.6,2129.8 L732.4,2143.9 L740.6,2145.4 L752.2,2145.5 L750.5,2158.6 L759,2161.4 L771.2,2163.4 L768,2175.3 L776.6,2179.4 L789.3,2183.3 L784.6,2193.9 L793.2,2199.2 L806.1,2204.9 L800,2214 L808.5,2220.4 L821.4,2227.8 L814.1,2235.4 L822.3,2242.7 L835.1,2251.8 L826.5,2257.7 L834.4,2265.9 L846.8,2276.5 L837.2,2280.6 L844.7,2289.5 L856.6,2301.6 L846,2303.7 L852.9,2313.4 L864.1,2326.6 L852.8,2326.8 L858.9,2337 L869.3,2351.2 L857.4,2349.5 L862.7,2360 L872.1,2375 L859.8,2371.5 L864.3,2382.2 L872.5,2397.7 L859.9,2392.4 L863.5,2403.1 L870.5,2419.1 L857.8,2412 L860.4,2422.6 L866,2438.6 L853.5,2429.9 L855.1,2440.2 L859.2,2456.1 L847,2445.9 L847.5,2455.8 L850.2,2471.4 L838.4,2459.8 L838,2469.1 L839.1,2484.1 L828,2471.3 L826.4,2480 Z" stroke-width="3.2" fill="#fff" />
<ellipse cx="705.4" cy="2298.5" rx="26.5" ry="16.4" transform="rotate(60 705.4 2298.5)" stroke-width="3.2" fill="#fff" />
<path d="M700,2290 L712,2296" stroke-width="2" fill="none" />
<line x1="703" y1="2301" x2="603" y2="2356" stroke-width="2" stroke-dasharray="16 12" stroke-linecap="butt"/>
<line x1="573" y1="2371" x2="590" y2="2362" stroke-width="2" />
<line x1="826" y1="2232" x2="857" y2="2216" stroke-width="2" />
<line x1="574" y1="2370" x2="597" y2="2357" stroke-width="2" />
<ellipse cx="529" cy="2397" rx="95" ry="57" transform="rotate(60 529 2397)" stroke-width="2.5" fill="#fff" />
<ellipse cx="525.5" cy="2399.5" rx="95" ry="57" transform="rotate(60 525.5 2399.5)" stroke-width="3" fill="#fff" />
<ellipse cx="516" cy="2401.5" rx="63" ry="39.1" transform="rotate(60 516 2401.5)" stroke-width="2.5" fill="none" />
<ellipse cx="516" cy="2402.6" rx="12" ry="19" transform="rotate(-25 516 2402.6)" stroke-width="2.5" fill="#000" />
<ellipse cx="519" cy="2403" rx="8" ry="14.5" transform="rotate(-25 519 2403)" stroke-width="0" fill="#fff" stroke="none"/>
<path d="M513,2396 L519,2404 L525,2413" stroke-width="2.2" fill="none" />
<path d="M513,2403 L519,2404" stroke-width="3" fill="none" />
<line x1="450" y1="2432" x2="472" y2="2429" stroke-width="2" />
<line x1="482" y1="2418" x2="494" y2="2414" stroke-width="2" />
<path d="M401.2,2442.8 L403.4,2433.2 L413,2425.2 L433.4,2415.5 L451.6,2425.2 L458,2432.1 L466.6,2456.2 L467.1,2458.9 L459.6,2472.3 L446.2,2477.1 L437.7,2482.5 L427.5,2482.5 L414.1,2473.9 L407.7,2465.9 L402.9,2450.9 Z" stroke-width="1.5" fill="#000" />
<path d="M421.1,2427.3 L431.2,2419.8 L436.6,2419.8 L450,2427.3 L438.7,2435.9 L433.4,2435.9 Z" stroke-width="0" fill="#fff" stroke="none"/>
<path d="M439.8,2440.7 L453.2,2431.6 L458.6,2441.8 L459.1,2449.3 L462.8,2458.4 L447.8,2463.7 Z" stroke-width="0" fill="#fff" stroke="none"/>
<path d="M447.3,2473.9 L459.6,2463.7 L455.9,2469.6 Z" stroke-width="0" fill="#fff" stroke="none"/>
<path d="M405,2440.7 C406.4,2437.5 410.2,2433 413,2431.6 C415.9,2430.2 419,2430.6 422.1,2432.1 C425.3,2433.7 428.9,2437.1 431.8,2440.7 C434.6,2444.3 437.7,2449.6 439.3,2453.6 C440.9,2457.5 441.6,2460.2 441.4,2464.3 C441.2,2468.4 440.5,2475.5 438.2,2478.2 C435.9,2480.9 431.2,2481.3 427.5,2480.3 C423.7,2479.4 418.9,2475.4 415.7,2472.3 C412.5,2469.2 410.1,2465.2 408.2,2461.6 C406.3,2458 405,2454.4 404.5,2450.9 C403.9,2447.4 403.6,2443.9 405,2440.7 Z" stroke-width="0" fill="#fff" stroke="none"/>
<path d="M407.1,2444.5 C407.9,2441.8 410.4,2438.6 412.5,2437.5 C414.6,2436.4 417.3,2436.7 420,2438 C422.7,2439.4 426.1,2442.5 428.6,2445.5 C431.1,2448.6 433.8,2452.4 435,2456.2 C436.2,2460.1 436.8,2465.6 435.5,2468.6 C434.3,2471.5 430.1,2473.5 427.5,2473.9 C424.9,2474.4 422.7,2473.3 420,2471.2 C417.3,2469.2 413.5,2464.5 411.4,2461.6 C409.4,2458.7 408.4,2456.4 407.7,2453.6 C407,2450.7 406.3,2447.1 407.1,2444.5 Z" stroke-width="0" fill="#000" stroke="none"/>
<path d="M414.6,2457.3 L423.2,2453 L427.5,2455.2 L416.8,2461.1 Z" stroke-width="0" fill="#fff" stroke="none"/>
<path d="M405.5,2433.2 C405.2,2434.8 403.3,2439.5 403.4,2442.8 C403.5,2446.2 405.2,2450.9 406.1,2453.6 C407,2456.2 408.3,2458 408.7,2458.9" stroke-width="2" fill="none" stroke="#000"/>
<path d="M400.5,1840.9 L427.1,1839 L448,1840.9 L459.5,1850.5 L458.5,1875.2 L446.1,1890.4 L434.7,1903.7 L436.6,1972.3 L442.3,2067.4 L446.1,2115 L461.4,2143.6 L476.6,2172.1 L478.5,2200.7 L465.2,2225.4 L456.6,2233 L451.8,2200.7 L446.1,2168.3 L427.1,2158.8 L408.1,2162.6 L415.7,2193 L425.2,2212.1 L417.6,2215.9 L404.3,2200.7 L389,2172.1 L383.3,2143.6 L387.1,2124.5 L404.3,2105.5 L408.1,2086.5 L408.1,1991.3 L406.2,1896.1 L400.5,1858.1 Z" stroke-width="4" fill="#fff" />
<path d="M449.9,1844.7 C450.6,1847 453.4,1853 453.7,1858.1 C454.1,1863.1 453.7,1869.5 451.8,1875.2 C449.9,1880.9 443.9,1887.3 442.3,1892.3 C440.7,1897.4 442,1889.2 442.3,1905.6 C442.6,1922.1 443,1958 444.2,1991.3 C445.5,2024.6 448,2081.7 449.9,2105.5 C451.8,2129.3 452.5,2125.2 455.6,2134 C458.8,2142.9 466.1,2149.3 469,2158.8 C471.8,2168.3 473.4,2181.6 472.8,2191.1 C472.1,2200.7 467.4,2209.9 465.2,2215.9 C462.9,2221.9 460.4,2225.4 459.5,2227.3" stroke-width="2" fill="none" />
<path d="M408.1,1850.5 C411.2,1849.8 420.4,1847 427.1,1846.6 C433.8,1846.3 443.6,1847.3 448,1848.5 C452.5,1849.8 452.8,1853.3 453.7,1854.3" stroke-width="2" fill="none" />
<path d="M410,1858.1 C410.1,1877.1 410.9,1933.6 410.9,1972.3 C411,2011 411.5,2067.4 410.4,2090.3 C409.2,2113.1 405.3,2106.1 404.3,2109.3" stroke-width="3" fill="none" />
<path d="M408.1,2162.6 L417.6,2160.7 L427.1,2210.2" stroke-width="2" fill="none" />
<path d="M229.8,2329.4 C229.9,2316.9 229.6,2322.6 230.4,2321.5 C231.2,2320.5 239.7,2314 241.7,2313.6 C243.7,2313.2 258.2,2315.3 259.8,2315.9 C261.4,2316.4 265.1,2317.3 265.5,2321.5 C265.9,2325.7 265.4,2367.9 265.5,2379.3 C265.6,2390.7 263.8,2486.2 266.6,2492.5 C269.5,2498.9 305.1,2475.5 308.5,2474.4 C312,2473.3 317.7,2475.9 318.7,2476.7 C319.8,2477.4 324.1,2484.2 324.4,2485.7 C324.7,2487.2 323.7,2497.7 323.3,2499.3 C322.8,2501 321.5,2508.1 317.6,2510.6 C313.7,2513.2 269,2536 264.4,2537.8 C259.7,2539.6 249.4,2538.7 247.4,2537.8 C245.3,2537 235,2527.3 233.8,2525.4 C232.6,2523.5 230.1,2522.6 229.8,2509.5 C229.6,2496.5 229.8,2342 229.8,2329.4 Z" stroke-width="4" fill="#fff" />
<path d="M234.9,2323.8 C236.4,2323 240.2,2319.6 244,2319.3 C247.8,2318.9 255.1,2320.2 257.6,2321.5 C260,2322.8 259.5,2325.3 258.7,2327.2 C257.9,2329.1 254,2331.9 253,2332.8" stroke-width="2.5" fill="none" />
<path d="M237.2,2334 L237.2,2515.2" stroke-width="2" fill="none" />
<path d="M241.7,2332.8 C242.4,2333.1 247.7,2318 248.5,2335.1 C249.3,2352.2 248.7,2485.6 249.6,2503.9 C250.5,2522.1 255.6,2516.3 257.6,2517.4 C259.5,2518.6 263,2518.1 268.9,2515.2 C274.8,2512.2 311.7,2490.7 316.5,2488" stroke-width="2.5" fill="none" />
<path d="M259.8,2330.6 C259.8,2358.7 258.7,2470.4 259.8,2499.3 C261,2528.2 265.5,2503.1 266.6,2503.9" stroke-width="2.5" fill="none" />
<path d="M268.9,2499.3 L316.5,2478.9" stroke-width="2" fill="none" />
<path d="M310.8,2478.9 C311.9,2479.7 316.6,2481.2 317.6,2483.5 C318.5,2485.7 316.6,2491 316.5,2492.5" stroke-width="2" fill="none" />
<path d="M1786.7,2610 L1906.7,2603.3 L2163.3,2603.3 L2176.7,2643.3 L2176.7,2760 L2160,2785 L2006.7,2781.7 L1786.7,2780 Z" stroke-width="2" fill="#fff" />
<path d="M1786.7,2611.7 L1906.7,2605 L2163.3,2606" stroke-width="6" fill="none" />
<path d="M1786.7,2778.3 L2006.7,2780.7 L2160,2784" stroke-width="6" fill="none" />
<path d="M2163.3,2603.3 L2176.7,2643.3 L2176.7,2760 L2160,2785" stroke-width="4" fill="none" />
<path d="M2056.7,2620 L2056.7,2773.3" stroke-width="5" fill="none" />
<path d="M2143.3,2623.3 L2143.3,2773.3" stroke-width="6" fill="none" />
<path d="M2148.3,2626.7 L2166.7,2633.3 L2166.7,2760 L2148.3,2773.3" stroke-width="2.5" fill="none" />
<path d="M2060,2620 L2141.7,2621.7" stroke-width="2" fill="none" />
<path d="M2060,2773.3 L2141.7,2775" stroke-width="2" fill="none" />
<path d="M1786.7,2610 L1786.7,2780" stroke-width="5" fill="none" />
<path d="M1846.7,2613.3 L1846.7,2776.7" stroke-width="4" fill="none" />
<path d="M1790,2633.3 L1843.3,2636.7" stroke-width="3" fill="none" />
<path d="M1790,2746.7 L1843.3,2750" stroke-width="3" fill="none" />
<path d="M1793.3,2606.7 L1826.7,2593.3" stroke-width="4" fill="none" />
<path d="M1820,2616.7 L1843.3,2600" stroke-width="4" fill="none" />
<path d="M1796.7,2630 L1846.7,2610" stroke-width="4" fill="none" />
<path d="M1793.3,2760 L1813.3,2776.7" stroke-width="4" fill="none" />
<path d="M1813.3,2746.7 L1840,2770" stroke-width="4" fill="none" />
<path d="M1796.7,2690 L1843.3,2690" stroke-width="7" fill="none" />
<path d="M1820,2570 C1816.7,2562.8 1802.2,2555.3 1800,2550 C1797.8,2544.7 1803.1,2538.9 1806.7,2538.3 C1810.3,2537.8 1818.3,2543.1 1821.7,2546.7 C1825,2550.3 1823.6,2560 1826.7,2560 C1829.7,2560 1836.1,2550 1840,2546.7 C1843.9,2543.3 1847.8,2539.4 1850,2540 C1852.2,2540.6 1855.6,2545 1853.3,2550 C1851.1,2555 1840,2562.8 1836.7,2570 C1833.3,2577.2 1836.1,2589.4 1833.3,2593.3 C1830.6,2597.2 1822.2,2597.2 1820,2593.3 C1817.8,2589.4 1823.3,2577.2 1820,2570 Z" stroke-width="4" fill="#fff" />
<path d="M1803.3,2600 L1820,2590 L1840,2591.7 L1886.7,2590 L1900,2600" stroke-width="4" fill="none" />
<path d="M1853.3,2650 C1856.1,2645.6 1868.3,2645 1873.3,2646.7 C1878.3,2648.3 1882.2,2655.6 1883.3,2660 C1884.4,2664.4 1884.4,2671.1 1880,2673.3 C1875.6,2675.6 1861.1,2677.2 1856.7,2673.3 C1852.2,2669.4 1850.6,2654.4 1853.3,2650 Z" stroke-width="5" fill="#000" />
<path d="M1866.7,2653.3 L1875,2653.3" stroke-width="2.5" fill="none" stroke="#fff"/>
<path d="M1856.7,2713.3 C1860.6,2708.3 1875.3,2707.8 1880,2710 C1884.7,2712.2 1885,2721.7 1885,2726.7 C1885,2731.7 1884.7,2737.8 1880,2740 C1875.3,2742.2 1860.6,2744.4 1856.7,2740 C1852.8,2735.6 1852.8,2718.3 1856.7,2713.3 Z" stroke-width="5" fill="#000" />
<path d="M1861.7,2723.3 L1861.7,2733.3" stroke-width="2.5" fill="none" stroke="#fff"/>
<path d="M1853.3,2673.3 L1886.7,2676.7 L1886.7,2713.3 L1853.3,2713.3" stroke-width="3" fill="none" />
<path d="M1866.7,2676.7 L1873.3,2693.3 L1866.7,2713.3" stroke-width="3" fill="none" />
<circle cx="1955" cy="2693.3" r="64" fill="#fff" stroke="#000" stroke-width="4.5"/>
<circle cx="1953.3" cy="2695" r="33" fill="#fff" stroke="#000" stroke-width="4"/>
<path d="M1910,2660 L1926.7,2641.7 L1986.7,2641.7 L1996.7,2660 Z" stroke-width="4" fill="#fff" />
<path d="M1913.3,2733.3 L1996.7,2733.3 L1980,2753.3 L1930,2753.3 Z" stroke-width="4" fill="#fff" />
<path d="M1953.3,2641.7 L1953.3,2660" stroke-width="4" fill="none" />
<path d="M1950,2733.3 L1950,2753.3" stroke-width="4" fill="none" />
<path d="M1951.7,2685 L1965,2695 L1951.7,2708.3 L1940,2695 Z" stroke-width="2" fill="#000" />
<circle cx="1948.3" cy="2697.3" r="1.5" fill="#fff"/>
<circle cx="1955" cy="2697.3" r="1.5" fill="#fff"/>
<ellipse cx="1746" cy="2691.7" rx="13" ry="76" transform="rotate(0 1746 2691.7)" stroke-width="4" fill="#000" />
<ellipse cx="1747.3" cy="2691.7" rx="5" ry="60" transform="rotate(0 1747.3 2691.7)" stroke-width="0" fill="#fff" stroke="none"/>
<path d="M1766.7,2646.7 C1768.9,2644.4 1777.2,2631.1 1780,2633.3 C1782.8,2635.6 1783.3,2644.4 1783.3,2660 C1783.3,2675.6 1780.6,2710.6 1780,2726.7 C1779.4,2742.8 1782.2,2753.3 1780,2756.7 C1777.8,2760 1768.9,2748.3 1766.7,2746.7" stroke-width="5" fill="none" />
<path d="M1703.3,2666.7 L1710,2660 L1733.3,2660 L1736.7,2666.7 L1736.7,2723.3 L1730,2726.7 L1706.7,2726.7 L1703.3,2720 Z" stroke-width="4" fill="#fff" />
<path d="M1706.7,2680 L1733.3,2680" stroke-width="3" fill="none" />
<path d="M1706.7,2713.3 L1733.3,2713.3" stroke-width="3" fill="none" />
<path d="M1670,2668.3 L1703.3,2668.3 L1703.3,2711.7 L1670,2711.7 Z" stroke-width="2" fill="#000" />
</g>
<g stroke="#000" stroke-width="2.6" fill="none">
<line x1="1643" y1="262" x2="1645" y2="341"/>
<line x1="1918" y1="262" x2="1920" y2="323"/>
<line x1="2064" y1="257" x2="2064" y2="323"/>
<line x1="1519" y1="412" x2="1612" y2="507"/>
<line x1="1291" y1="434" x2="1393" y2="535"/>
<line x1="2026" y1="479" x2="1995" y2="477"/>
<line x1="1932" y1="598" x2="2005" y2="598"/>
<line x1="1133" y1="564" x2="1236" y2="666"/>
<line x1="1123" y1="724" x2="1193" y2="791"/>
<line x1="1039" y1="764" x2="1112" y2="836"/>
<line x1="500" y1="790" x2="501" y2="860"/>
<line x1="848" y1="864" x2="923" y2="939"/>
<line x1="1079" y1="955" x2="1116" y2="995"/>
<line x1="878" y1="1040" x2="878" y2="1120"/>
<line x1="685" y1="1199" x2="739" y2="1254"/>
<line x1="1785" y1="1384" x2="1785" y2="1488"/>
<line x1="970" y1="1682" x2="1018" y2="1725"/>
<line x1="1154" y1="1765" x2="1192" y2="1765"/>
<line x1="1404" y1="1781" x2="1444" y2="1782"/>
<line x1="1301" y1="1837" x2="1325" y2="1889"/>
<line x1="1149" y1="1870" x2="1192" y2="1870"/>
<line x1="751.5" y1="1968" x2="751.5" y2="2035"/>
<line x1="281" y1="2025" x2="393" y2="2025"/>
<line x1="1440" y1="1949" x2="1498" y2="2001"/>
<line x1="1275" y1="2030" x2="1337" y2="2091"/>
<line x1="1592" y1="2087" x2="1642" y2="2137"/>
<line x1="1237" y1="2150" x2="1319" y2="2231"/>
<line x1="1050" y1="2205" x2="1133" y2="2288"/>
<line x1="976" y1="2381" x2="976" y2="2292"/>
<line x1="976" y1="2362" x2="1016" y2="2335"/>
<line x1="921" y1="2282" x2="921" y2="2499"/>
<line x1="1971" y1="2528" x2="1971" y2="2603"/>
<line x1="247.5" y1="2553" x2="247.5" y2="2593"/>
<line x1="433" y1="2491" x2="433" y2="2590"/>
<line x1="569" y1="2486" x2="659" y2="2577"/>
<line x1="1990" y1="2787" x2="1990" y2="2820"/>
</g>
<g font-family="Liberation Sans, sans-serif" font-weight="bold" font-size="42" fill="#000">
<text x="1602" y="254" textLength="60" lengthAdjust="spacingAndGlyphs">211</text>
<text x="1878" y="257" textLength="69" lengthAdjust="spacingAndGlyphs">212</text>
<text x="2022" y="248" textLength="69" lengthAdjust="spacingAndGlyphs">219</text>
<text x="1474" y="406" textLength="67" lengthAdjust="spacingAndGlyphs">207</text>
<text x="1247" y="426" textLength="68" lengthAdjust="spacingAndGlyphs">196</text>
<text x="2031" y="503" textLength="69" lengthAdjust="spacingAndGlyphs">212</text>
<text x="2015" y="615" textLength="67" lengthAdjust="spacingAndGlyphs">208</text>
<text x="1087" y="558" textLength="69" lengthAdjust="spacingAndGlyphs">210</text>
<text x="1086" y="720" textLength="69" lengthAdjust="spacingAndGlyphs">194</text>
<text x="972" y="760" textLength="66" lengthAdjust="spacingAndGlyphs">193</text>
<text x="462" y="787" textLength="68" lengthAdjust="spacingAndGlyphs">192</text>
<text x="809" y="844" textLength="65" lengthAdjust="spacingAndGlyphs">221</text>
<text x="1081" y="1029" textLength="68" lengthAdjust="spacingAndGlyphs">220</text>
<text x="845" y="1151" textLength="68" lengthAdjust="spacingAndGlyphs">222</text>
<text x="706" y="1302" textLength="66" lengthAdjust="spacingAndGlyphs">198</text>
<text x="1746" y="1379" textLength="69" lengthAdjust="spacingAndGlyphs">197</text>
<text x="918" y="1678" textLength="67" lengthAdjust="spacingAndGlyphs">195</text>
<text x="1194" y="1781" textLength="68" lengthAdjust="spacingAndGlyphs">190</text>
<text x="1337" y="1778" textLength="68" lengthAdjust="spacingAndGlyphs">210</text>
<text x="1249" y="1833" textLength="69" lengthAdjust="spacingAndGlyphs">215</text>
<text x="1193" y="1885" textLength="67" lengthAdjust="spacingAndGlyphs">189</text>
<text x="715" y="1964" textLength="69" lengthAdjust="spacingAndGlyphs">209</text>
<text x="199" y="2044" textLength="68" lengthAdjust="spacingAndGlyphs">186</text>
<text x="1464" y="2044" textLength="69" lengthAdjust="spacingAndGlyphs">214</text>
<text x="1305" y="2136" textLength="69" lengthAdjust="spacingAndGlyphs">200</text>
<text x="1608" y="2182" textLength="68" lengthAdjust="spacingAndGlyphs">195</text>
<text x="1281" y="2277" textLength="65" lengthAdjust="spacingAndGlyphs">201</text>
<text x="1112" y="2335" textLength="69" lengthAdjust="spacingAndGlyphs">216</text>
<text x="947" y="2428" textLength="69" lengthAdjust="spacingAndGlyphs">209</text>
<text x="905" y="2543" textLength="71" lengthAdjust="spacingAndGlyphs">202</text>
<text x="1925" y="2516" textLength="68" lengthAdjust="spacingAndGlyphs">206</text>
<text x="205" y="2648" textLength="70" lengthAdjust="spacingAndGlyphs">205</text>
<text x="391" y="2641" textLength="70" lengthAdjust="spacingAndGlyphs">204</text>
<text x="616" y="2624" textLength="70" lengthAdjust="spacingAndGlyphs">203</text>
</g>
<rect x="2397" y="0" width="2" height="3153" fill="#000"/>
<circle cx="2362" cy="3112.5" r="23.8" fill="none" stroke="#000" stroke-width="3.6"/>
<text x="2359.5" y="3128" text-anchor="middle" font-family="Liberation Serif, serif" font-weight="bold" font-size="44" fill="#000">C</text>
</svg></body></html>
